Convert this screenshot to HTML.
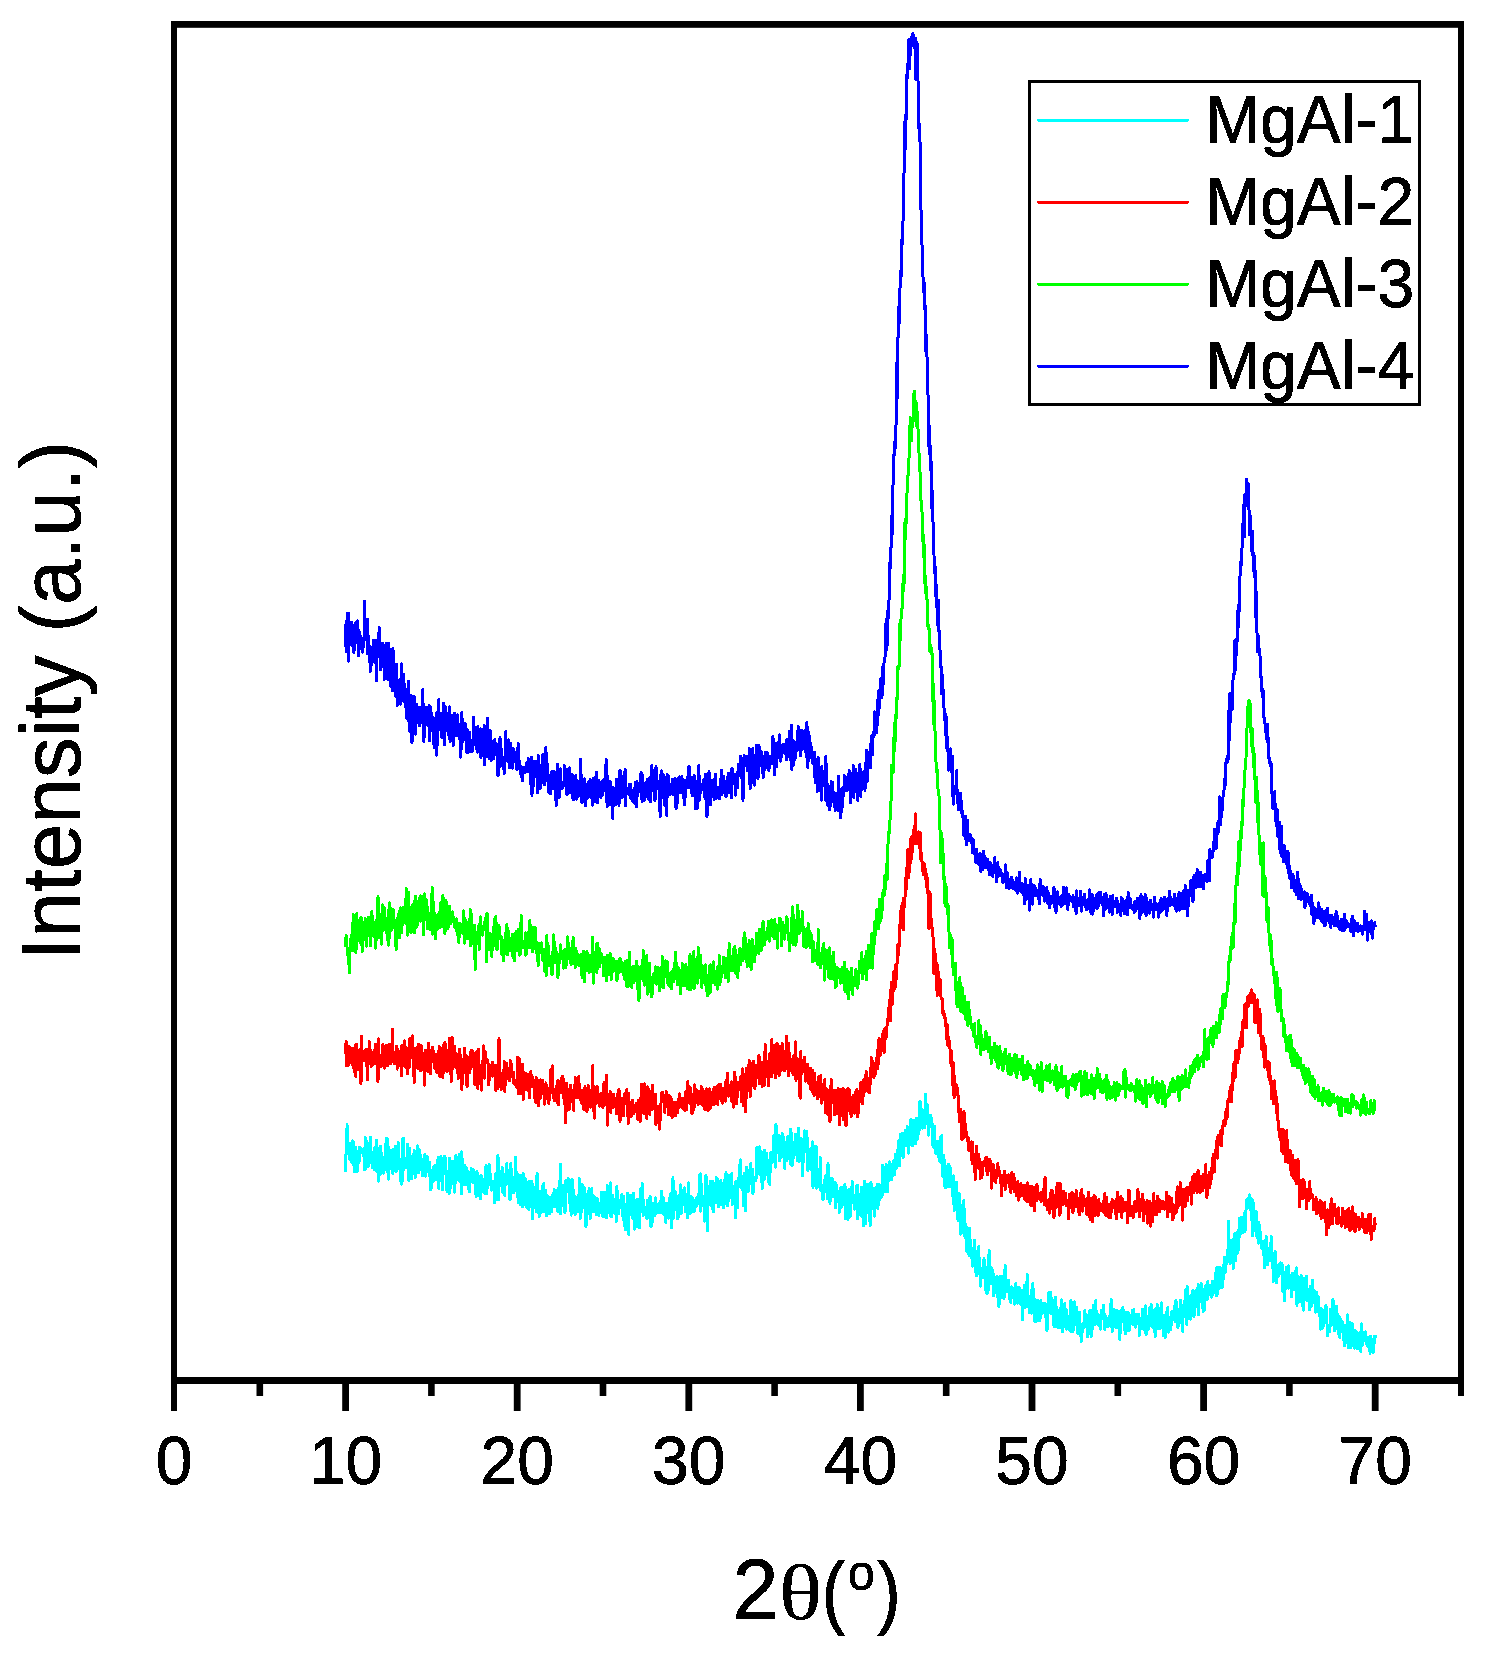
<!DOCTYPE html>
<html lang="en"><head><meta charset="utf-8"><title>XRD patterns of MgAl samples</title>
<style>html,body{margin:0;padding:0;background:#fff}svg{display:block}text{font-family:"Liberation Sans",sans-serif;fill:#000}.th{font-family:"Liberation Serif","DejaVu Serif",serif}</style></head><body>
<svg width="1489" height="1659" viewBox="0 0 1489 1659">
<defs><filter id="bin" x="-5%" y="-5%" width="110%" height="110%" color-interpolation-filters="sRGB"><feComponentTransfer><feFuncA type="discrete" tableValues="0 1"/></feComponentTransfer></filter></defs>
<rect x="0" y="0" width="1489" height="1659" fill="#fff"/>
<g shape-rendering="crispEdges">
<polyline fill="none" stroke="#00ffff" stroke-width="3" stroke-linejoin="round" stroke-linecap="butt" points="345.6,1172.1 346.1,1150.1 346.6,1148.2 347.1,1124.8 347.7,1153.8 348.2,1150.7 348.7,1148.5 349.2,1157.9 349.7,1159.2 350.2,1143.2 350.7,1145.2 351.3,1149.8 351.8,1162.5 352.3,1161.1 352.8,1140.8 353.3,1142.8 353.8,1162.9 354.4,1172.0 354.9,1154.5 355.4,1147.3 355.9,1166.6 356.4,1151.3 356.9,1162.5 357.4,1171.4 358.0,1164.7 358.5,1155.2 359.0,1162.3 359.5,1147.2 360.0,1152.2 360.5,1147.9 361.0,1151.9 361.6,1148.7 362.1,1152.0 362.6,1149.9 363.1,1155.0 363.6,1154.7 364.1,1157.3 364.6,1169.4 365.2,1137.3 365.7,1168.3 366.2,1151.7 366.7,1141.0 367.2,1152.6 367.7,1155.6 368.3,1166.4 368.8,1143.3 369.3,1157.4 369.8,1156.4 370.3,1137.0 370.8,1142.6 371.3,1162.1 371.9,1163.3 372.4,1167.8 372.9,1161.9 373.4,1160.6 373.9,1157.8 374.4,1169.7 374.9,1147.6 375.5,1155.4 376.0,1161.3 376.5,1140.1 377.0,1171.6 377.5,1148.9 378.0,1156.8 378.5,1181.1 379.1,1148.8 379.6,1152.2 380.1,1175.0 380.6,1146.4 381.1,1153.5 381.6,1163.8 382.2,1163.3 382.7,1164.8 383.2,1162.5 383.7,1173.1 384.2,1169.6 384.7,1165.1 385.2,1151.4 385.8,1147.2 386.3,1138.2 386.8,1166.4 387.3,1139.3 387.8,1168.6 388.3,1179.1 388.8,1147.7 389.4,1151.8 389.9,1154.2 390.4,1168.4 390.9,1150.1 391.4,1158.1 391.9,1153.9 392.4,1156.9 393.0,1173.6 393.5,1149.2 394.0,1160.5 394.5,1162.7 395.0,1169.1 395.5,1146.2 396.1,1172.0 396.6,1164.7 397.1,1169.5 397.6,1160.8 398.1,1142.3 398.6,1153.1 399.1,1169.0 399.7,1160.6 400.2,1159.7 400.7,1179.6 401.2,1184.1 401.7,1159.9 402.2,1181.2 402.7,1138.8 403.3,1138.2 403.8,1169.8 404.3,1157.6 404.8,1166.7 405.3,1166.0 405.8,1159.5 406.3,1167.9 406.9,1162.2 407.4,1144.0 407.9,1163.0 408.4,1162.6 408.9,1180.5 409.4,1148.5 409.9,1160.9 410.5,1156.2 411.0,1159.4 411.5,1178.8 412.0,1165.0 412.5,1155.9 413.0,1162.7 413.6,1169.4 414.1,1150.4 414.6,1158.5 415.1,1178.1 415.6,1170.9 416.1,1161.4 416.6,1156.9 417.2,1160.7 417.7,1145.8 418.2,1173.0 418.7,1166.8 419.2,1165.0 419.7,1149.8 420.2,1156.4 420.8,1170.0 421.3,1167.6 421.8,1159.8 422.3,1170.9 422.8,1175.9 423.3,1158.9 423.8,1160.8 424.4,1157.5 424.9,1154.8 425.4,1176.1 425.9,1173.3 426.4,1171.8 426.9,1155.9 427.5,1157.6 428.0,1168.3 428.5,1164.9 429.0,1170.9 429.5,1162.3 430.0,1177.0 430.5,1189.5 431.1,1186.9 431.6,1187.8 432.1,1171.5 432.6,1180.8 433.1,1167.1 433.6,1181.2 434.1,1167.5 434.7,1166.5 435.2,1165.0 435.7,1179.5 436.2,1175.1 436.7,1174.4 437.2,1160.4 437.7,1174.2 438.3,1157.5 438.8,1188.8 439.3,1171.8 439.8,1175.4 440.3,1172.3 440.8,1156.7 441.4,1159.1 441.9,1173.6 442.4,1189.9 442.9,1162.3 443.4,1166.8 443.9,1173.9 444.4,1156.5 445.0,1156.5 445.5,1170.3 446.0,1174.3 446.5,1170.7 447.0,1191.3 447.5,1173.3 448.0,1179.0 448.6,1192.2 449.1,1193.4 449.6,1158.5 450.1,1171.5 450.6,1187.9 451.1,1161.0 451.6,1165.9 452.2,1162.0 452.7,1161.3 453.2,1163.8 453.7,1177.8 454.2,1189.5 454.7,1192.3 455.3,1176.2 455.8,1155.2 456.3,1175.6 456.8,1172.6 457.3,1180.0 457.8,1175.0 458.3,1157.3 458.9,1180.9 459.4,1154.6 459.9,1169.3 460.4,1180.0 460.9,1180.4 461.4,1193.5 461.9,1151.8 462.5,1180.5 463.0,1184.3 463.5,1173.6 464.0,1183.9 464.5,1165.5 465.0,1184.3 465.5,1183.1 466.1,1167.1 466.6,1170.5 467.1,1175.6 467.6,1170.8 468.1,1188.9 468.6,1179.8 469.2,1191.9 469.7,1190.6 470.2,1178.8 470.7,1176.2 471.2,1168.4 471.7,1170.0 472.2,1170.1 472.8,1182.4 473.3,1169.4 473.8,1179.7 474.3,1181.0 474.8,1173.8 475.3,1177.2 475.8,1194.5 476.4,1196.4 476.9,1171.2 477.4,1177.5 477.9,1175.7 478.4,1176.8 478.9,1196.0 479.4,1187.2 480.0,1193.3 480.5,1198.9 481.0,1175.5 481.5,1178.3 482.0,1180.8 482.5,1191.3 483.1,1179.7 483.6,1187.6 484.1,1193.2 484.6,1193.3 485.1,1185.8 485.6,1172.9 486.1,1164.9 486.7,1193.3 487.2,1186.4 487.7,1171.8 488.2,1176.5 488.7,1177.2 489.2,1164.4 489.7,1184.8 490.3,1173.9 490.8,1179.2 491.3,1190.2 491.8,1181.5 492.3,1188.3 492.8,1187.1 493.3,1183.1 493.9,1183.3 494.4,1202.5 494.9,1180.2 495.4,1200.1 495.9,1173.3 496.4,1190.7 497.0,1184.8 497.5,1175.3 498.0,1155.1 498.5,1199.8 499.0,1170.8 499.5,1172.9 500.0,1184.4 500.6,1183.6 501.1,1185.9 501.6,1180.3 502.1,1167.2 502.6,1192.1 503.1,1173.5 503.6,1185.4 504.2,1189.1 504.7,1195.5 505.2,1180.7 505.7,1179.8 506.2,1180.5 506.7,1163.5 507.2,1175.0 507.8,1172.4 508.3,1170.9 508.8,1184.8 509.3,1179.7 509.8,1199.8 510.3,1198.7 510.9,1163.2 511.4,1184.3 511.9,1172.5 512.4,1188.9 512.9,1184.7 513.4,1192.8 513.9,1186.4 514.5,1191.2 515.0,1180.3 515.5,1157.2 516.0,1171.4 516.5,1175.2 517.0,1179.4 517.5,1174.3 518.1,1202.5 518.6,1184.1 519.1,1199.9 519.6,1183.2 520.1,1204.6 520.6,1175.3 521.1,1194.6 521.7,1175.0 522.2,1196.4 522.7,1206.6 523.2,1173.5 523.7,1182.0 524.2,1194.2 524.8,1190.2 525.3,1178.4 525.8,1205.2 526.3,1194.1 526.8,1207.5 527.3,1197.8 527.8,1182.9 528.4,1190.2 528.9,1209.8 529.4,1181.4 529.9,1191.1 530.4,1202.4 530.9,1206.9 531.4,1205.1 532.0,1181.4 532.5,1218.5 533.0,1195.4 533.5,1197.4 534.0,1197.4 534.5,1195.2 535.0,1187.7 535.6,1194.5 536.1,1211.7 536.6,1184.1 537.1,1173.2 537.6,1204.1 538.1,1202.2 538.6,1206.3 539.2,1216.8 539.7,1191.6 540.2,1201.0 540.7,1204.5 541.2,1212.1 541.7,1210.1 542.3,1190.9 542.8,1185.5 543.3,1196.9 543.8,1183.2 544.3,1211.3 544.8,1195.8 545.3,1196.3 545.9,1190.8 546.4,1215.7 546.9,1203.0 547.4,1195.7 547.9,1206.3 548.4,1199.1 548.9,1206.1 549.5,1213.6 550.0,1197.3 550.5,1205.3 551.0,1204.9 551.5,1211.7 552.0,1206.1 552.5,1200.3 553.1,1193.4 553.6,1203.0 554.1,1189.2 554.6,1206.8 555.1,1200.6 555.6,1205.7 556.2,1194.6 556.7,1191.7 557.2,1190.6 557.7,1211.4 558.2,1197.7 558.7,1197.6 559.2,1181.5 559.8,1199.4 560.3,1164.3 560.8,1214.0 561.3,1197.5 561.8,1200.2 562.3,1185.3 562.8,1188.7 563.4,1206.2 563.9,1197.9 564.4,1204.4 564.9,1213.1 565.4,1206.9 565.9,1180.5 566.4,1190.0 567.0,1188.4 567.5,1190.8 568.0,1178.8 568.5,1179.1 569.0,1192.6 569.5,1194.2 570.1,1205.7 570.6,1197.1 571.1,1215.2 571.6,1181.7 572.1,1179.1 572.6,1203.3 573.1,1197.9 573.7,1190.6 574.2,1208.8 574.7,1212.1 575.2,1214.5 575.7,1196.9 576.2,1201.0 576.7,1203.5 577.3,1201.8 577.8,1211.8 578.3,1196.3 578.8,1205.2 579.3,1178.7 579.8,1209.2 580.3,1218.4 580.9,1201.3 581.4,1212.3 581.9,1184.5 582.4,1198.2 582.9,1185.8 583.4,1205.0 584.0,1207.2 584.5,1187.7 585.0,1193.2 585.5,1195.9 586.0,1226.9 586.5,1201.2 587.0,1203.3 587.6,1205.8 588.1,1205.2 588.6,1199.7 589.1,1188.5 589.6,1195.2 590.1,1219.1 590.6,1205.0 591.2,1198.5 591.7,1188.5 592.2,1201.9 592.7,1202.8 593.2,1195.8 593.7,1211.8 594.2,1196.6 594.8,1201.0 595.3,1211.4 595.8,1205.1 596.3,1214.4 596.8,1200.6 597.3,1198.6 597.9,1207.9 598.4,1205.4 598.9,1215.5 599.4,1207.6 599.9,1203.3 600.4,1208.4 600.9,1210.6 601.5,1192.6 602.0,1202.8 602.5,1201.0 603.0,1216.9 603.5,1199.8 604.0,1215.8 604.5,1192.1 605.1,1204.7 605.6,1216.4 606.1,1203.0 606.6,1217.6 607.1,1185.2 607.6,1206.4 608.1,1207.9 608.7,1205.1 609.2,1191.1 609.7,1213.4 610.2,1182.9 610.7,1216.5 611.2,1209.9 611.8,1217.0 612.3,1204.4 612.8,1195.6 613.3,1201.7 613.8,1202.2 614.3,1213.1 614.8,1203.8 615.4,1211.1 615.9,1211.8 616.4,1221.3 616.9,1186.4 617.4,1202.6 617.9,1213.7 618.4,1213.6 619.0,1200.8 619.5,1203.7 620.0,1205.4 620.5,1207.6 621.0,1200.4 621.5,1199.5 622.0,1194.6 622.6,1202.1 623.1,1220.1 623.6,1196.1 624.1,1215.6 624.6,1225.5 625.1,1207.7 625.7,1229.7 626.2,1204.1 626.7,1222.5 627.2,1204.9 627.7,1193.0 628.2,1208.9 628.7,1234.5 629.3,1199.3 629.8,1210.3 630.3,1195.2 630.8,1196.3 631.3,1210.1 631.8,1203.5 632.3,1211.2 632.9,1218.5 633.4,1193.4 633.9,1198.4 634.4,1205.9 634.9,1229.2 635.4,1202.2 635.9,1200.6 636.5,1210.0 637.0,1227.1 637.5,1199.6 638.0,1202.5 638.5,1206.1 639.0,1213.4 639.6,1228.0 640.1,1192.9 640.6,1188.7 641.1,1207.3 641.6,1211.2 642.1,1182.9 642.6,1199.5 643.2,1215.6 643.7,1200.4 644.2,1210.8 644.7,1207.6 645.2,1212.5 645.7,1210.3 646.2,1208.6 646.8,1218.7 647.3,1200.2 647.8,1207.2 648.3,1217.6 648.8,1200.3 649.3,1202.3 649.8,1198.4 650.4,1196.5 650.9,1226.9 651.4,1211.1 651.9,1225.5 652.4,1213.8 652.9,1207.2 653.5,1203.6 654.0,1209.2 654.5,1206.1 655.0,1215.9 655.5,1197.7 656.0,1208.4 656.5,1211.5 657.1,1204.4 657.6,1204.4 658.1,1212.5 658.6,1212.6 659.1,1205.9 659.6,1206.8 660.1,1201.3 660.7,1212.7 661.2,1205.8 661.7,1191.0 662.2,1203.8 662.7,1213.3 663.2,1209.9 663.7,1197.9 664.3,1214.4 664.8,1213.0 665.3,1213.0 665.8,1222.3 666.3,1203.2 666.8,1212.7 667.3,1203.8 667.9,1216.4 668.4,1218.1 668.9,1211.1 669.4,1213.6 669.9,1197.6 670.4,1212.1 671.0,1193.4 671.5,1227.6 672.0,1217.1 672.5,1189.5 673.0,1177.8 673.5,1218.2 674.0,1195.9 674.6,1210.1 675.1,1191.1 675.6,1205.0 676.1,1197.5 676.6,1210.1 677.1,1200.4 677.6,1218.9 678.2,1195.8 678.7,1216.6 679.2,1203.2 679.7,1208.6 680.2,1186.8 680.7,1185.0 681.2,1213.7 681.8,1190.2 682.3,1199.3 682.8,1199.4 683.3,1193.3 683.8,1204.6 684.3,1187.9 684.9,1190.1 685.4,1211.7 685.9,1193.9 686.4,1209.7 686.9,1212.2 687.4,1217.5 687.9,1206.4 688.5,1182.8 689.0,1194.9 689.5,1197.2 690.0,1214.0 690.5,1204.8 691.0,1196.1 691.5,1205.4 692.1,1197.1 692.6,1206.3 693.1,1202.1 693.6,1211.8 694.1,1203.7 694.6,1210.4 695.1,1199.9 695.7,1207.2 696.2,1198.1 696.7,1206.2 697.2,1201.7 697.7,1197.9 698.2,1194.7 698.8,1196.1 699.3,1203.6 699.8,1174.9 700.3,1211.2 700.8,1173.8 701.3,1196.1 701.8,1194.5 702.4,1205.4 702.9,1200.0 703.4,1197.0 703.9,1198.1 704.4,1206.9 704.9,1221.2 705.4,1200.7 706.0,1175.3 706.5,1192.1 707.0,1200.6 707.5,1230.5 708.0,1188.0 708.5,1192.0 709.0,1201.5 709.6,1198.9 710.1,1181.6 710.6,1205.1 711.1,1181.4 711.6,1192.2 712.1,1208.6 712.7,1181.0 713.2,1191.0 713.7,1211.8 714.2,1191.6 714.7,1183.3 715.2,1188.0 715.7,1202.7 716.3,1177.6 716.8,1187.2 717.3,1178.5 717.8,1181.5 718.3,1206.9 718.8,1192.5 719.3,1188.7 719.9,1197.6 720.4,1185.6 720.9,1180.5 721.4,1204.8 721.9,1202.0 722.4,1183.9 722.9,1200.0 723.5,1207.8 724.0,1197.6 724.5,1197.6 725.0,1179.3 725.5,1190.8 726.0,1172.6 726.6,1203.7 727.1,1190.1 727.6,1205.7 728.1,1183.6 728.6,1200.8 729.1,1175.0 729.6,1187.2 730.2,1197.1 730.7,1195.0 731.2,1190.5 731.7,1173.7 732.2,1204.8 732.7,1197.7 733.2,1202.6 733.8,1202.4 734.3,1186.5 734.8,1194.4 735.3,1218.0 735.8,1181.2 736.3,1194.1 736.8,1183.8 737.4,1208.0 737.9,1191.2 738.4,1178.3 738.9,1182.7 739.4,1174.0 739.9,1164.6 740.5,1159.8 741.0,1180.5 741.5,1176.0 742.0,1189.4 742.5,1178.8 743.0,1189.6 743.5,1205.8 744.1,1174.2 744.6,1173.5 745.1,1196.5 745.6,1210.7 746.1,1176.1 746.6,1167.1 747.1,1181.6 747.7,1180.0 748.2,1191.3 748.7,1171.9 749.2,1179.8 749.7,1178.5 750.2,1164.2 750.7,1163.5 751.3,1184.2 751.8,1184.5 752.3,1169.2 752.8,1193.6 753.3,1191.0 753.8,1180.0 754.4,1180.7 754.9,1177.0 755.4,1180.2 755.9,1180.9 756.4,1171.5 756.9,1147.8 757.4,1167.6 758.0,1159.6 758.5,1148.5 759.0,1173.7 759.5,1147.0 760.0,1174.9 760.5,1158.1 761.0,1150.9 761.6,1154.1 762.1,1188.6 762.6,1178.5 763.1,1158.5 763.6,1172.7 764.1,1179.9 764.6,1150.1 765.2,1155.9 765.7,1168.7 766.2,1162.4 766.7,1153.3 767.2,1175.0 767.7,1162.1 768.3,1169.2 768.8,1182.2 769.3,1160.7 769.8,1184.4 770.3,1158.0 770.8,1152.4 771.3,1155.3 771.9,1163.2 772.4,1160.4 772.9,1156.9 773.4,1135.9 773.9,1140.0 774.4,1148.8 774.9,1159.6 775.5,1167.3 776.0,1124.1 776.5,1149.0 777.0,1145.3 777.5,1148.9 778.0,1152.3 778.5,1140.3 779.1,1134.9 779.6,1160.9 780.1,1157.9 780.6,1144.8 781.1,1148.1 781.6,1141.7 782.2,1133.7 782.7,1156.8 783.2,1142.2 783.7,1137.2 784.2,1143.1 784.7,1168.3 785.2,1155.1 785.8,1152.9 786.3,1151.5 786.8,1160.3 787.3,1159.0 787.8,1136.4 788.3,1148.5 788.8,1144.1 789.4,1154.0 789.9,1151.1 790.4,1129.6 790.9,1164.9 791.4,1155.2 791.9,1133.1 792.4,1165.3 793.0,1154.1 793.5,1158.1 794.0,1153.2 794.5,1154.8 795.0,1147.4 795.5,1134.6 796.0,1146.3 796.6,1155.3 797.1,1153.8 797.6,1160.6 798.1,1152.4 798.6,1128.6 799.1,1161.7 799.7,1144.7 800.2,1138.8 800.7,1150.2 801.2,1138.7 801.7,1158.0 802.2,1143.8 802.7,1175.7 803.3,1151.5 803.8,1148.3 804.3,1147.3 804.8,1130.8 805.3,1145.3 805.8,1146.8 806.3,1151.8 806.9,1131.1 807.4,1156.5 807.9,1170.7 808.4,1152.2 808.9,1156.8 809.4,1162.6 809.9,1149.5 810.5,1154.1 811.0,1170.0 811.5,1162.2 812.0,1147.2 812.5,1141.8 813.0,1187.2 813.6,1167.7 814.1,1146.1 814.6,1166.0 815.1,1172.4 815.6,1167.2 816.1,1146.5 816.6,1188.1 817.2,1176.3 817.7,1169.1 818.2,1180.2 818.7,1170.5 819.2,1172.2 819.7,1186.9 820.2,1157.3 820.8,1190.6 821.3,1185.1 821.8,1189.8 822.3,1192.0 822.8,1199.4 823.3,1198.7 823.8,1193.2 824.4,1180.0 824.9,1191.9 825.4,1179.8 825.9,1175.0 826.4,1190.4 826.9,1189.7 827.5,1198.9 828.0,1163.6 828.5,1193.1 829.0,1194.2 829.5,1188.5 830.0,1203.4 830.5,1178.5 831.1,1191.7 831.6,1184.4 832.1,1188.5 832.6,1178.7 833.1,1187.8 833.6,1196.8 834.1,1191.3 834.7,1194.0 835.2,1182.6 835.7,1208.0 836.2,1184.2 836.7,1192.3 837.2,1198.8 837.7,1191.1 838.3,1201.5 838.8,1196.0 839.3,1212.4 839.8,1200.7 840.3,1199.5 840.8,1187.3 841.4,1201.1 841.9,1207.2 842.4,1201.4 842.9,1187.7 843.4,1192.1 843.9,1195.7 844.4,1198.7 845.0,1184.2 845.5,1218.6 846.0,1198.2 846.5,1200.6 847.0,1194.9 847.5,1199.2 848.0,1219.8 848.6,1190.0 849.1,1194.6 849.6,1189.3 850.1,1194.4 850.6,1216.2 851.1,1193.8 851.6,1195.7 852.2,1181.7 852.7,1196.8 853.2,1203.0 853.7,1195.7 854.2,1196.7 854.7,1209.2 855.3,1206.5 855.8,1200.0 856.3,1193.1 856.8,1185.7 857.3,1218.9 857.8,1185.5 858.3,1208.4 858.9,1199.8 859.4,1194.4 859.9,1211.3 860.4,1194.7 860.9,1215.7 861.4,1187.0 861.9,1208.2 862.5,1216.5 863.0,1193.5 863.5,1225.4 864.0,1212.7 864.5,1181.2 865.0,1218.5 865.5,1223.9 866.1,1201.5 866.6,1202.2 867.1,1208.0 867.6,1184.4 868.1,1205.5 868.6,1213.3 869.2,1197.8 869.7,1214.7 870.2,1225.8 870.7,1182.5 871.2,1183.7 871.7,1194.7 872.2,1208.1 872.8,1205.0 873.3,1191.0 873.8,1188.1 874.3,1191.6 874.8,1216.1 875.3,1187.8 875.8,1190.9 876.4,1206.1 876.9,1192.5 877.4,1184.1 877.9,1208.6 878.4,1196.3 878.9,1184.7 879.4,1187.1 880.0,1200.0 880.5,1185.5 881.0,1191.1 881.5,1196.7 882.0,1196.7 882.5,1165.6 883.1,1178.7 883.6,1179.2 884.1,1182.6 884.6,1188.4 885.1,1191.5 885.6,1172.9 886.1,1164.7 886.7,1177.4 887.2,1167.8 887.7,1191.6 888.2,1175.8 888.7,1171.5 889.2,1180.6 889.7,1161.9 890.3,1164.5 890.8,1165.5 891.3,1173.7 891.8,1180.0 892.3,1173.8 892.8,1172.8 893.3,1161.6 893.9,1167.4 894.4,1160.3 894.9,1174.7 895.4,1154.7 895.9,1160.0 896.4,1162.7 897.0,1167.8 897.5,1150.5 898.0,1155.0 898.5,1147.5 899.0,1140.6 899.5,1165.9 900.0,1157.6 900.6,1134.6 901.1,1138.9 901.6,1154.2 902.1,1139.8 902.6,1133.4 903.1,1157.3 903.6,1136.7 904.2,1136.6 904.7,1145.6 905.2,1130.3 905.7,1137.3 906.2,1138.0 906.7,1143.7 907.2,1126.7 907.8,1146.2 908.3,1137.5 908.8,1153.1 909.3,1135.3 909.8,1126.6 910.3,1126.2 910.9,1119.3 911.4,1131.3 911.9,1130.3 912.4,1145.7 912.9,1131.2 913.4,1120.6 913.9,1140.8 914.5,1124.2 915.0,1131.4 915.5,1144.0 916.0,1141.4 916.5,1118.4 917.0,1124.3 917.5,1139.3 918.1,1134.2 918.6,1128.1 919.1,1130.7 919.6,1101.7 920.1,1115.4 920.6,1101.8 921.1,1109.8 921.7,1111.9 922.2,1120.9 922.7,1128.1 923.2,1123.4 923.7,1117.3 924.2,1110.0 924.7,1127.8 925.3,1094.0 925.8,1096.8 926.3,1113.1 926.8,1120.0 927.3,1104.8 927.8,1119.2 928.4,1135.1 928.9,1117.2 929.4,1121.3 929.9,1123.4 930.4,1115.1 930.9,1122.6 931.4,1118.5 932.0,1128.3 932.5,1124.2 933.0,1145.5 933.5,1135.4 934.0,1147.9 934.5,1126.5 935.0,1142.2 935.6,1150.7 936.1,1153.9 936.6,1141.2 937.1,1148.6 937.6,1152.6 938.1,1149.1 938.6,1149.6 939.2,1161.2 939.7,1143.5 940.2,1137.8 940.7,1153.3 941.2,1162.7 941.7,1135.6 942.3,1176.2 942.8,1163.5 943.3,1169.8 943.8,1155.4 944.3,1165.1 944.8,1186.4 945.3,1188.0 945.9,1175.7 946.4,1167.0 946.9,1169.9 947.4,1186.4 947.9,1165.7 948.4,1164.4 948.9,1174.2 949.5,1186.6 950.0,1166.7 950.5,1183.3 951.0,1184.9 951.5,1183.9 952.0,1182.5 952.5,1196.0 953.1,1194.5 953.6,1175.7 954.1,1210.6 954.6,1201.5 955.1,1202.9 955.6,1198.8 956.2,1202.3 956.7,1182.1 957.2,1208.1 957.7,1218.6 958.2,1220.6 958.7,1208.9 959.2,1193.3 959.8,1207.2 960.3,1216.7 960.8,1234.1 961.3,1205.9 961.8,1223.6 962.3,1230.6 962.8,1232.1 963.4,1226.1 963.9,1200.4 964.4,1235.7 964.9,1232.4 965.4,1237.9 965.9,1224.6 966.4,1230.7 967.0,1251.9 967.5,1237.5 968.0,1239.8 968.5,1234.3 969.0,1255.2 969.5,1228.1 970.1,1240.4 970.6,1251.1 971.1,1247.8 971.6,1258.2 972.1,1255.0 972.6,1266.2 973.1,1251.3 973.7,1253.5 974.2,1258.8 974.7,1240.2 975.2,1272.2 975.7,1251.0 976.2,1271.8 976.7,1275.9 977.3,1272.9 977.8,1266.2 978.3,1259.4 978.8,1246.3 979.3,1273.0 979.8,1266.5 980.3,1286.2 980.9,1268.2 981.4,1278.0 981.9,1269.2 982.4,1278.0 982.9,1271.6 983.4,1274.1 984.0,1258.8 984.5,1270.4 985.0,1276.2 985.5,1290.0 986.0,1281.0 986.5,1267.4 987.0,1294.1 987.6,1282.9 988.1,1290.4 988.6,1271.8 989.1,1249.9 989.6,1273.6 990.1,1271.5 990.6,1283.8 991.2,1267.2 991.7,1273.5 992.2,1269.3 992.7,1283.6 993.2,1273.9 993.7,1295.6 994.2,1290.4 994.8,1291.2 995.3,1281.7 995.8,1286.2 996.3,1292.3 996.8,1276.7 997.3,1296.3 997.9,1284.4 998.4,1297.1 998.9,1306.5 999.4,1300.4 999.9,1276.2 1000.4,1297.7 1000.9,1283.8 1001.5,1283.1 1002.0,1285.0 1002.5,1276.6 1003.0,1290.0 1003.5,1281.4 1004.0,1298.5 1004.5,1291.5 1005.1,1264.9 1005.6,1280.1 1006.1,1279.9 1006.6,1283.1 1007.1,1283.6 1007.6,1291.9 1008.1,1288.8 1008.7,1280.4 1009.2,1294.7 1009.7,1299.3 1010.2,1291.3 1010.7,1302.3 1011.2,1295.7 1011.8,1286.9 1012.3,1288.6 1012.8,1292.6 1013.3,1297.6 1013.8,1294.6 1014.3,1302.2 1014.8,1304.1 1015.4,1284.6 1015.9,1283.5 1016.4,1293.3 1016.9,1298.7 1017.4,1303.1 1017.9,1300.9 1018.4,1300.9 1019.0,1287.1 1019.5,1299.2 1020.0,1290.2 1020.5,1300.1 1021.0,1304.7 1021.5,1290.7 1022.0,1294.9 1022.6,1319.5 1023.1,1290.7 1023.6,1293.3 1024.1,1288.2 1024.6,1285.4 1025.1,1307.6 1025.7,1292.7 1026.2,1293.5 1026.7,1292.1 1027.2,1274.3 1027.7,1306.6 1028.2,1295.1 1028.7,1299.9 1029.3,1312.9 1029.8,1299.6 1030.3,1302.3 1030.8,1303.0 1031.3,1313.2 1031.8,1289.9 1032.3,1297.2 1032.9,1283.0 1033.4,1303.0 1033.9,1308.8 1034.4,1299.6 1034.9,1321.5 1035.4,1312.7 1035.9,1321.7 1036.5,1306.0 1037.0,1321.0 1037.5,1300.5 1038.0,1309.1 1038.5,1306.8 1039.0,1302.2 1039.6,1321.0 1040.1,1318.3 1040.6,1300.7 1041.1,1313.2 1041.6,1308.9 1042.1,1309.0 1042.6,1313.3 1043.2,1303.7 1043.7,1310.1 1044.2,1311.3 1044.7,1303.5 1045.2,1304.6 1045.7,1317.0 1046.2,1309.8 1046.8,1330.7 1047.3,1328.9 1047.8,1303.7 1048.3,1313.0 1048.8,1292.6 1049.3,1304.8 1049.8,1302.7 1050.4,1304.0 1050.9,1292.0 1051.4,1313.5 1051.9,1312.6 1052.4,1304.4 1052.9,1311.0 1053.4,1320.0 1054.0,1326.2 1054.5,1300.6 1055.0,1326.5 1055.5,1297.5 1056.0,1305.6 1056.5,1309.6 1057.1,1326.8 1057.6,1318.7 1058.1,1318.8 1058.6,1327.5 1059.1,1316.0 1059.6,1310.2 1060.1,1327.3 1060.7,1312.7 1061.2,1303.7 1061.7,1299.9 1062.2,1316.6 1062.7,1331.9 1063.2,1322.2 1063.7,1316.3 1064.3,1326.8 1064.8,1303.3 1065.3,1320.4 1065.8,1312.1 1066.3,1329.1 1066.8,1309.9 1067.3,1324.5 1067.9,1319.4 1068.4,1318.0 1068.9,1324.1 1069.4,1316.6 1069.9,1331.0 1070.4,1316.9 1071.0,1299.9 1071.5,1331.6 1072.0,1330.7 1072.5,1323.7 1073.0,1331.5 1073.5,1325.6 1074.0,1312.4 1074.6,1302.0 1075.1,1310.8 1075.6,1317.4 1076.1,1324.5 1076.6,1307.7 1077.1,1312.2 1077.6,1333.3 1078.2,1314.1 1078.7,1313.8 1079.2,1312.0 1079.7,1334.4 1080.2,1327.2 1080.7,1328.1 1081.2,1341.9 1081.8,1328.8 1082.3,1332.1 1082.8,1323.7 1083.3,1328.1 1083.8,1326.1 1084.3,1326.7 1084.9,1310.6 1085.4,1318.9 1085.9,1317.6 1086.4,1315.1 1086.9,1320.4 1087.4,1336.5 1087.9,1329.0 1088.5,1321.7 1089.0,1323.8 1089.5,1333.0 1090.0,1310.4 1090.5,1324.2 1091.0,1335.2 1091.5,1336.4 1092.1,1328.7 1092.6,1325.6 1093.1,1305.2 1093.6,1314.7 1094.1,1320.4 1094.6,1324.0 1095.1,1324.2 1095.7,1300.7 1096.2,1315.8 1096.7,1322.7 1097.2,1313.6 1097.7,1318.1 1098.2,1324.4 1098.8,1322.5 1099.3,1321.2 1099.8,1325.9 1100.3,1329.2 1100.8,1316.7 1101.3,1310.0 1101.8,1313.0 1102.4,1312.4 1102.9,1318.3 1103.4,1305.5 1103.9,1311.9 1104.4,1316.2 1104.9,1330.0 1105.4,1322.7 1106.0,1316.8 1106.5,1325.7 1107.0,1319.5 1107.5,1319.9 1108.0,1327.1 1108.5,1320.8 1109.0,1319.2 1109.6,1324.1 1110.1,1313.2 1110.6,1318.3 1111.1,1299.7 1111.6,1314.3 1112.1,1331.3 1112.7,1314.8 1113.2,1317.9 1113.7,1314.3 1114.2,1309.1 1114.7,1322.2 1115.2,1317.8 1115.7,1327.4 1116.3,1310.3 1116.8,1318.3 1117.3,1315.0 1117.8,1312.9 1118.3,1327.3 1118.8,1311.7 1119.3,1311.8 1119.9,1339.9 1120.4,1317.4 1120.9,1316.2 1121.4,1322.0 1121.9,1309.3 1122.4,1321.1 1122.9,1307.8 1123.5,1313.9 1124.0,1313.1 1124.5,1329.7 1125.0,1323.5 1125.5,1334.0 1126.0,1332.5 1126.6,1312.1 1127.1,1322.6 1127.6,1314.4 1128.1,1312.7 1128.6,1328.6 1129.1,1330.7 1129.6,1319.5 1130.2,1321.4 1130.7,1321.2 1131.2,1321.5 1131.7,1321.9 1132.2,1310.3 1132.7,1324.4 1133.2,1313.3 1133.8,1309.2 1134.3,1318.3 1134.8,1322.0 1135.3,1327.1 1135.8,1323.2 1136.3,1322.6 1136.8,1314.5 1137.4,1323.8 1137.9,1322.3 1138.4,1323.1 1138.9,1314.2 1139.4,1335.4 1139.9,1327.3 1140.5,1326.7 1141.0,1321.7 1141.5,1318.5 1142.0,1329.0 1142.5,1309.6 1143.0,1317.0 1143.5,1318.5 1144.1,1325.9 1144.6,1318.3 1145.1,1333.1 1145.6,1305.8 1146.1,1334.4 1146.6,1323.6 1147.1,1328.9 1147.7,1316.4 1148.2,1329.7 1148.7,1318.0 1149.2,1322.9 1149.7,1307.9 1150.2,1325.4 1150.7,1321.7 1151.3,1304.4 1151.8,1319.7 1152.3,1317.8 1152.8,1327.5 1153.3,1314.6 1153.8,1322.0 1154.4,1331.5 1154.9,1309.0 1155.4,1336.4 1155.9,1322.3 1156.4,1318.2 1156.9,1308.3 1157.4,1304.7 1158.0,1328.3 1158.5,1316.0 1159.0,1314.5 1159.5,1329.0 1160.0,1325.6 1160.5,1320.8 1161.0,1307.0 1161.6,1302.7 1162.1,1327.7 1162.6,1319.1 1163.1,1317.1 1163.6,1335.8 1164.1,1315.5 1164.6,1322.2 1165.2,1337.6 1165.7,1324.2 1166.2,1314.0 1166.7,1311.4 1167.2,1329.1 1167.7,1307.7 1168.3,1325.5 1168.8,1332.2 1169.3,1317.2 1169.8,1325.1 1170.3,1318.4 1170.8,1330.0 1171.3,1319.9 1171.9,1311.3 1172.4,1320.4 1172.9,1318.4 1173.4,1311.6 1173.9,1314.7 1174.4,1306.1 1174.9,1309.1 1175.5,1321.9 1176.0,1300.0 1176.5,1318.3 1177.0,1315.8 1177.5,1310.4 1178.0,1327.5 1178.5,1321.1 1179.1,1309.6 1179.6,1316.3 1180.1,1322.3 1180.6,1300.3 1181.1,1315.6 1181.6,1311.3 1182.1,1316.6 1182.7,1331.3 1183.2,1306.8 1183.7,1309.2 1184.2,1301.4 1184.7,1313.5 1185.2,1316.7 1185.8,1289.3 1186.3,1323.5 1186.8,1324.3 1187.3,1286.4 1187.8,1296.2 1188.3,1313.4 1188.8,1309.6 1189.4,1318.8 1189.9,1305.6 1190.4,1319.1 1190.9,1295.2 1191.4,1310.5 1191.9,1302.6 1192.4,1301.9 1193.0,1289.9 1193.5,1301.5 1194.0,1316.9 1194.5,1298.5 1195.0,1301.8 1195.5,1304.6 1196.0,1290.1 1196.6,1304.8 1197.1,1307.0 1197.6,1299.4 1198.1,1284.5 1198.6,1314.4 1199.1,1300.7 1199.7,1299.6 1200.2,1297.5 1200.7,1293.6 1201.2,1283.5 1201.7,1297.6 1202.2,1299.0 1202.7,1306.1 1203.3,1311.5 1203.8,1289.7 1204.3,1310.4 1204.8,1296.2 1205.3,1300.2 1205.8,1285.2 1206.3,1297.1 1206.9,1285.0 1207.4,1299.1 1207.9,1281.2 1208.4,1292.4 1208.9,1287.7 1209.4,1294.3 1209.9,1292.9 1210.5,1291.6 1211.0,1285.1 1211.5,1297.1 1212.0,1294.0 1212.5,1281.1 1213.0,1294.7 1213.6,1281.5 1214.1,1287.7 1214.6,1285.5 1215.1,1284.9 1215.6,1292.6 1216.1,1268.1 1216.6,1295.8 1217.2,1267.1 1217.7,1294.2 1218.2,1287.2 1218.7,1267.5 1219.2,1283.7 1219.7,1276.4 1220.2,1267.1 1220.8,1287.9 1221.3,1285.5 1221.8,1276.9 1222.3,1287.4 1222.8,1271.2 1223.3,1265.4 1223.8,1278.8 1224.4,1257.6 1224.9,1270.8 1225.4,1272.5 1225.9,1262.8 1226.4,1260.6 1226.9,1263.3 1227.5,1260.1 1228.0,1250.2 1228.5,1221.5 1229.0,1250.3 1229.5,1240.3 1230.0,1263.2 1230.5,1248.4 1231.1,1254.3 1231.6,1258.3 1232.1,1259.9 1232.6,1239.7 1233.1,1268.7 1233.6,1255.1 1234.1,1250.8 1234.7,1233.8 1235.2,1261.1 1235.7,1245.9 1236.2,1248.7 1236.7,1232.9 1237.2,1253.2 1237.7,1247.4 1238.3,1230.1 1238.8,1249.9 1239.3,1218.0 1239.8,1236.3 1240.3,1233.0 1240.8,1232.4 1241.4,1217.3 1241.9,1219.8 1242.4,1232.3 1242.9,1232.4 1243.4,1220.1 1243.9,1217.1 1244.4,1213.6 1245.0,1231.7 1245.5,1215.6 1246.0,1210.6 1246.5,1200.1 1247.0,1199.6 1247.5,1201.4 1248.0,1198.7 1248.6,1206.9 1249.1,1207.4 1249.6,1194.7 1250.1,1205.9 1250.6,1209.8 1251.1,1198.5 1251.6,1220.2 1252.2,1199.4 1252.7,1235.9 1253.2,1202.7 1253.7,1219.8 1254.2,1217.7 1254.7,1226.9 1255.3,1217.1 1255.8,1231.6 1256.3,1211.7 1256.8,1236.5 1257.3,1227.4 1257.8,1235.4 1258.3,1243.2 1258.9,1222.5 1259.4,1229.8 1259.9,1229.6 1260.4,1237.4 1260.9,1241.3 1261.4,1248.0 1261.9,1244.1 1262.5,1241.5 1263.0,1249.5 1263.5,1255.2 1264.0,1255.6 1264.5,1267.6 1265.0,1241.8 1265.5,1251.2 1266.1,1236.7 1266.6,1243.9 1267.1,1257.5 1267.6,1264.6 1268.1,1248.4 1268.6,1258.5 1269.2,1255.6 1269.7,1260.6 1270.2,1258.6 1270.7,1252.7 1271.2,1236.5 1271.7,1244.5 1272.2,1263.4 1272.8,1259.8 1273.3,1281.4 1273.8,1262.8 1274.3,1272.0 1274.8,1252.9 1275.3,1251.8 1275.8,1267.9 1276.4,1282.8 1276.9,1271.7 1277.4,1265.7 1277.9,1273.5 1278.4,1276.3 1278.9,1275.6 1279.4,1272.3 1280.0,1263.0 1280.5,1262.9 1281.0,1269.5 1281.5,1273.8 1282.0,1263.3 1282.5,1291.1 1283.1,1282.3 1283.6,1272.3 1284.1,1284.8 1284.6,1300.8 1285.1,1280.9 1285.6,1281.2 1286.1,1289.1 1286.7,1267.4 1287.2,1275.1 1287.7,1273.6 1288.2,1288.2 1288.7,1265.9 1289.2,1284.9 1289.7,1277.8 1290.3,1280.0 1290.8,1277.8 1291.3,1296.8 1291.8,1275.7 1292.3,1273.0 1292.8,1287.2 1293.3,1279.4 1293.9,1289.7 1294.4,1284.8 1294.9,1285.9 1295.4,1286.7 1295.9,1270.7 1296.4,1268.0 1297.0,1305.2 1297.5,1276.3 1298.0,1292.1 1298.5,1277.3 1299.0,1287.1 1299.5,1285.8 1300.0,1301.7 1300.6,1286.9 1301.1,1275.1 1301.6,1276.5 1302.1,1292.5 1302.6,1298.0 1303.1,1308.7 1303.6,1310.1 1304.2,1278.3 1304.7,1290.4 1305.2,1280.8 1305.7,1294.7 1306.2,1299.8 1306.7,1276.3 1307.2,1301.0 1307.8,1300.2 1308.3,1291.7 1308.8,1289.0 1309.3,1309.9 1309.8,1294.0 1310.3,1286.0 1310.8,1297.3 1311.4,1306.2 1311.9,1303.6 1312.4,1280.4 1312.9,1286.5 1313.4,1295.8 1313.9,1301.8 1314.5,1302.9 1315.0,1291.6 1315.5,1312.1 1316.0,1309.4 1316.5,1292.6 1317.0,1299.3 1317.5,1307.9 1318.1,1296.7 1318.6,1311.3 1319.1,1313.4 1319.6,1308.7 1320.1,1318.1 1320.6,1329.3 1321.1,1308.1 1321.7,1318.3 1322.2,1310.5 1322.7,1328.1 1323.2,1325.9 1323.7,1315.2 1324.2,1310.0 1324.7,1322.4 1325.3,1315.3 1325.8,1305.4 1326.3,1307.6 1326.8,1315.2 1327.3,1335.8 1327.8,1326.7 1328.4,1329.6 1328.9,1326.1 1329.4,1330.3 1329.9,1331.7 1330.4,1309.5 1330.9,1324.7 1331.4,1325.3 1332.0,1324.5 1332.5,1324.3 1333.0,1299.4 1333.5,1323.1 1334.0,1310.3 1334.5,1330.6 1335.0,1318.4 1335.6,1320.9 1336.1,1323.2 1336.6,1306.6 1337.1,1323.1 1337.6,1314.2 1338.1,1333.6 1338.6,1321.4 1339.2,1316.7 1339.7,1337.5 1340.2,1324.9 1340.7,1319.7 1341.2,1327.7 1341.7,1327.5 1342.3,1331.8 1342.8,1321.9 1343.3,1340.1 1343.8,1334.4 1344.3,1346.0 1344.8,1337.6 1345.3,1325.2 1345.9,1342.9 1346.4,1332.4 1346.9,1335.9 1347.4,1314.9 1347.9,1325.4 1348.4,1347.7 1348.9,1345.8 1349.5,1322.1 1350.0,1339.8 1350.5,1340.0 1351.0,1347.7 1351.5,1328.3 1352.0,1323.0 1352.5,1340.2 1353.1,1332.2 1353.6,1332.9 1354.1,1330.4 1354.6,1348.3 1355.1,1330.8 1355.6,1346.1 1356.2,1343.3 1356.7,1332.7 1357.2,1346.4 1357.7,1348.9 1358.2,1341.4 1358.7,1336.5 1359.2,1344.8 1359.8,1332.4 1360.3,1342.8 1360.8,1351.5 1361.3,1327.7 1361.8,1323.9 1362.3,1345.1 1362.8,1331.8 1363.4,1335.5 1363.9,1340.7 1364.4,1334.5 1364.9,1340.9 1365.4,1331.9 1365.9,1335.8 1366.4,1339.8 1367.0,1345.3 1367.5,1337.5 1368.0,1344.1 1368.5,1346.5 1369.0,1346.0 1369.5,1341.2 1370.1,1353.2 1370.6,1336.3 1371.1,1351.7 1371.6,1351.6 1372.1,1351.1 1372.6,1339.9 1373.1,1352.4 1373.7,1348.8 1374.2,1336.0 1374.7,1343.0 1375.2,1335.2"/>
<polyline fill="none" stroke="#ff0000" stroke-width="3" stroke-linejoin="round" stroke-linecap="butt" points="345.6,1054.1 346.1,1041.4 346.6,1065.8 347.1,1053.5 347.7,1051.3 348.2,1046.7 348.7,1065.1 349.2,1046.2 349.7,1062.8 350.2,1051.8 350.7,1057.6 351.3,1055.3 351.8,1063.3 352.3,1065.0 352.8,1048.1 353.3,1068.2 353.8,1065.5 354.4,1068.6 354.9,1073.1 355.4,1044.8 355.9,1076.6 356.4,1044.1 356.9,1053.2 357.4,1062.6 358.0,1069.4 358.5,1065.5 359.0,1063.1 359.5,1065.0 360.0,1049.5 360.5,1060.1 361.0,1083.5 361.6,1036.5 362.1,1057.8 362.6,1059.1 363.1,1051.6 363.6,1058.7 364.1,1060.9 364.6,1057.6 365.2,1059.2 365.7,1049.7 366.2,1065.5 366.7,1053.8 367.2,1049.3 367.7,1079.6 368.3,1051.7 368.8,1055.1 369.3,1041.4 369.8,1063.3 370.3,1049.6 370.8,1052.8 371.3,1066.4 371.9,1064.3 372.4,1052.3 372.9,1064.3 373.4,1063.1 373.9,1057.7 374.4,1050.0 374.9,1063.4 375.5,1044.2 376.0,1062.4 376.5,1058.7 377.0,1046.8 377.5,1048.4 378.0,1082.1 378.5,1038.9 379.1,1059.0 379.6,1055.1 380.1,1062.6 380.6,1061.3 381.1,1066.8 381.6,1064.9 382.2,1057.7 382.7,1044.5 383.2,1054.9 383.7,1062.4 384.2,1062.3 384.7,1068.1 385.2,1055.4 385.8,1045.7 386.3,1051.6 386.8,1059.2 387.3,1065.8 387.8,1065.9 388.3,1063.6 388.8,1044.3 389.4,1052.0 389.9,1061.1 390.4,1058.9 390.9,1063.9 391.4,1043.9 391.9,1061.4 392.4,1029.1 393.0,1050.7 393.5,1055.9 394.0,1051.9 394.5,1063.4 395.0,1053.0 395.5,1055.2 396.1,1061.6 396.6,1046.6 397.1,1069.2 397.6,1048.9 398.1,1060.7 398.6,1057.1 399.1,1051.0 399.7,1056.1 400.2,1058.1 400.7,1050.7 401.2,1076.0 401.7,1045.6 402.2,1055.3 402.7,1066.0 403.3,1060.2 403.8,1065.6 404.3,1040.9 404.8,1053.3 405.3,1055.9 405.8,1067.5 406.3,1047.8 406.9,1055.1 407.4,1073.5 407.9,1059.4 408.4,1059.9 408.9,1055.2 409.4,1067.1 409.9,1038.2 410.5,1048.2 411.0,1050.6 411.5,1057.2 412.0,1056.0 412.5,1035.8 413.0,1057.1 413.6,1047.9 414.1,1082.8 414.6,1053.4 415.1,1066.0 415.6,1050.7 416.1,1053.7 416.6,1047.9 417.2,1064.0 417.7,1068.6 418.2,1044.0 418.7,1060.9 419.2,1063.4 419.7,1069.2 420.2,1051.5 420.8,1071.0 421.3,1045.7 421.8,1059.4 422.3,1052.9 422.8,1054.7 423.3,1067.9 423.8,1062.6 424.4,1085.1 424.9,1056.8 425.4,1050.5 425.9,1068.8 426.4,1060.0 426.9,1053.4 427.5,1070.1 428.0,1071.5 428.5,1043.6 429.0,1054.0 429.5,1068.9 430.0,1050.4 430.5,1073.8 431.1,1056.4 431.6,1061.7 432.1,1059.4 432.6,1047.3 433.1,1056.2 433.6,1051.1 434.1,1053.8 434.7,1068.1 435.2,1064.2 435.7,1055.7 436.2,1060.6 436.7,1072.5 437.2,1057.8 437.7,1054.3 438.3,1065.2 438.8,1052.9 439.3,1046.6 439.8,1076.3 440.3,1047.8 440.8,1060.0 441.4,1062.8 441.9,1055.6 442.4,1076.8 442.9,1077.3 443.4,1063.0 443.9,1044.3 444.4,1062.8 445.0,1042.5 445.5,1064.7 446.0,1067.5 446.5,1062.5 447.0,1071.6 447.5,1061.4 448.0,1050.8 448.6,1055.4 449.1,1070.3 449.6,1038.6 450.1,1062.0 450.6,1047.2 451.1,1081.6 451.6,1044.8 452.2,1037.3 452.7,1068.3 453.2,1067.8 453.7,1052.2 454.2,1057.6 454.7,1046.1 455.3,1057.4 455.8,1067.5 456.3,1062.5 456.8,1059.3 457.3,1054.3 457.8,1071.3 458.3,1078.5 458.9,1075.5 459.4,1049.2 459.9,1064.1 460.4,1054.6 460.9,1059.6 461.4,1067.2 461.9,1089.6 462.5,1066.6 463.0,1063.9 463.5,1059.0 464.0,1069.8 464.5,1048.2 465.0,1071.1 465.5,1072.9 466.1,1055.2 466.6,1080.1 467.1,1086.7 467.6,1057.1 468.1,1072.4 468.6,1060.1 469.2,1058.0 469.7,1072.9 470.2,1068.2 470.7,1052.3 471.2,1050.1 471.7,1067.0 472.2,1051.0 472.8,1052.5 473.3,1062.5 473.8,1060.3 474.3,1068.9 474.8,1084.6 475.3,1052.9 475.8,1079.8 476.4,1051.9 476.9,1065.9 477.4,1075.9 477.9,1088.9 478.4,1049.3 478.9,1082.4 479.4,1065.0 480.0,1067.6 480.5,1071.5 481.0,1084.8 481.5,1090.2 482.0,1070.8 482.5,1061.1 483.1,1059.6 483.6,1045.9 484.1,1052.4 484.6,1078.3 485.1,1051.4 485.6,1056.4 486.1,1063.1 486.7,1062.2 487.2,1060.8 487.7,1059.9 488.2,1064.4 488.7,1084.7 489.2,1078.0 489.7,1072.8 490.3,1065.1 490.8,1073.6 491.3,1075.4 491.8,1064.8 492.3,1062.4 492.8,1076.2 493.3,1066.9 493.9,1066.8 494.4,1074.1 494.9,1073.9 495.4,1065.2 495.9,1090.5 496.4,1078.1 497.0,1073.5 497.5,1082.4 498.0,1088.8 498.5,1075.7 499.0,1038.7 499.5,1063.9 500.0,1075.0 500.6,1077.1 501.1,1089.4 501.6,1080.9 502.1,1073.4 502.6,1084.1 503.1,1070.1 503.6,1085.6 504.2,1061.3 504.7,1091.3 505.2,1074.8 505.7,1084.7 506.2,1074.3 506.7,1063.2 507.2,1074.5 507.8,1077.0 508.3,1078.9 508.8,1077.9 509.3,1080.7 509.8,1071.5 510.3,1060.7 510.9,1072.7 511.4,1063.8 511.9,1075.2 512.4,1074.4 512.9,1077.8 513.4,1072.2 513.9,1083.4 514.5,1083.1 515.0,1084.3 515.5,1081.5 516.0,1085.2 516.5,1087.1 517.0,1079.2 517.5,1057.6 518.1,1072.7 518.6,1094.0 519.1,1058.4 519.6,1080.2 520.1,1073.7 520.6,1093.5 521.1,1083.5 521.7,1077.4 522.2,1080.2 522.7,1064.4 523.2,1099.4 523.7,1087.5 524.2,1072.3 524.8,1075.6 525.3,1086.5 525.8,1074.9 526.3,1073.6 526.8,1089.9 527.3,1080.8 527.8,1086.0 528.4,1091.2 528.9,1074.8 529.4,1097.5 529.9,1091.8 530.4,1073.3 530.9,1071.1 531.4,1084.6 532.0,1086.6 532.5,1076.9 533.0,1081.5 533.5,1081.9 534.0,1080.9 534.5,1087.9 535.0,1099.0 535.6,1102.4 536.1,1077.4 536.6,1084.6 537.1,1079.7 537.6,1084.8 538.1,1081.8 538.6,1105.4 539.2,1094.8 539.7,1080.6 540.2,1098.8 540.7,1079.9 541.2,1087.8 541.7,1092.1 542.3,1083.5 542.8,1080.0 543.3,1090.2 543.8,1094.8 544.3,1086.1 544.8,1104.2 545.3,1094.4 545.9,1082.9 546.4,1094.9 546.9,1085.4 547.4,1092.7 547.9,1094.8 548.4,1093.6 548.9,1103.6 549.5,1091.0 550.0,1093.9 550.5,1086.7 551.0,1069.3 551.5,1084.4 552.0,1090.9 552.5,1066.0 553.1,1092.9 553.6,1093.7 554.1,1100.5 554.6,1093.9 555.1,1100.7 555.6,1090.6 556.2,1086.7 556.7,1095.9 557.2,1081.4 557.7,1103.5 558.2,1080.5 558.7,1104.8 559.2,1086.2 559.8,1087.1 560.3,1081.9 560.8,1089.8 561.3,1093.0 561.8,1078.3 562.3,1076.0 562.8,1092.0 563.4,1078.7 563.9,1098.3 564.4,1103.5 564.9,1087.9 565.4,1122.5 565.9,1092.9 566.4,1083.4 567.0,1110.7 567.5,1098.0 568.0,1089.1 568.5,1093.7 569.0,1107.2 569.5,1109.4 570.1,1094.5 570.6,1085.1 571.1,1090.1 571.6,1101.7 572.1,1095.9 572.6,1098.8 573.1,1099.1 573.7,1110.5 574.2,1093.1 574.7,1095.1 575.2,1077.1 575.7,1095.1 576.2,1080.5 576.7,1089.7 577.3,1097.5 577.8,1091.3 578.3,1095.8 578.8,1076.3 579.3,1093.2 579.8,1098.6 580.3,1097.1 580.9,1100.8 581.4,1090.5 581.9,1103.2 582.4,1091.8 582.9,1094.5 583.4,1106.0 584.0,1110.1 584.5,1104.7 585.0,1086.7 585.5,1093.9 586.0,1092.4 586.5,1097.6 587.0,1111.5 587.6,1107.3 588.1,1085.7 588.6,1099.8 589.1,1099.0 589.6,1090.6 590.1,1093.0 590.6,1107.3 591.2,1095.1 591.7,1095.1 592.2,1092.3 592.7,1065.5 593.2,1097.5 593.7,1104.8 594.2,1115.2 594.8,1118.1 595.3,1087.5 595.8,1096.4 596.3,1091.6 596.8,1099.2 597.3,1086.7 597.9,1099.1 598.4,1102.6 598.9,1102.4 599.4,1100.4 599.9,1106.2 600.4,1095.0 600.9,1093.2 601.5,1096.7 602.0,1094.8 602.5,1101.1 603.0,1107.5 603.5,1097.1 604.0,1082.6 604.5,1083.3 605.1,1102.6 605.6,1104.5 606.1,1104.1 606.6,1075.6 607.1,1106.9 607.6,1125.1 608.1,1100.1 608.7,1098.5 609.2,1111.0 609.7,1094.4 610.2,1091.7 610.7,1112.4 611.2,1093.1 611.8,1108.1 612.3,1097.3 612.8,1099.5 613.3,1094.3 613.8,1107.2 614.3,1102.3 614.8,1101.6 615.4,1099.2 615.9,1098.2 616.4,1113.6 616.9,1111.3 617.4,1112.8 617.9,1093.7 618.4,1108.2 619.0,1089.4 619.5,1118.9 620.0,1121.2 620.5,1117.8 621.0,1109.7 621.5,1110.7 622.0,1104.2 622.6,1098.5 623.1,1114.0 623.6,1115.5 624.1,1102.4 624.6,1093.7 625.1,1101.5 625.7,1102.7 626.2,1100.2 626.7,1089.7 627.2,1093.1 627.7,1106.7 628.2,1123.4 628.7,1093.4 629.3,1108.0 629.8,1103.6 630.3,1110.7 630.8,1107.2 631.3,1116.6 631.8,1106.9 632.3,1100.3 632.9,1108.3 633.4,1107.3 633.9,1113.9 634.4,1111.4 634.9,1111.5 635.4,1106.3 635.9,1104.4 636.5,1103.5 637.0,1107.7 637.5,1116.8 638.0,1119.3 638.5,1100.2 639.0,1103.9 639.6,1105.3 640.1,1122.1 640.6,1097.7 641.1,1106.2 641.6,1084.1 642.1,1108.5 642.6,1096.7 643.2,1105.1 643.7,1113.4 644.2,1092.6 644.7,1083.9 645.2,1108.6 645.7,1099.1 646.2,1109.6 646.8,1118.4 647.3,1095.9 647.8,1086.9 648.3,1096.9 648.8,1089.0 649.3,1097.4 649.8,1114.6 650.4,1097.2 650.9,1091.1 651.4,1108.4 651.9,1109.6 652.4,1085.6 652.9,1105.5 653.5,1100.1 654.0,1108.4 654.5,1097.6 655.0,1100.7 655.5,1094.6 656.0,1125.0 656.5,1110.1 657.1,1111.9 657.6,1111.8 658.1,1106.4 658.6,1117.3 659.1,1110.5 659.6,1129.3 660.1,1113.7 660.7,1120.3 661.2,1093.5 661.7,1100.6 662.2,1101.5 662.7,1092.1 663.2,1100.7 663.7,1101.0 664.3,1095.2 664.8,1112.8 665.3,1100.1 665.8,1106.4 666.3,1091.4 666.8,1103.2 667.3,1098.2 667.9,1098.3 668.4,1114.6 668.9,1108.7 669.4,1095.6 669.9,1096.4 670.4,1111.9 671.0,1097.8 671.5,1102.9 672.0,1117.3 672.5,1116.0 673.0,1104.9 673.5,1104.2 674.0,1106.6 674.6,1102.6 675.1,1104.6 675.6,1115.4 676.1,1107.8 676.6,1106.4 677.1,1102.5 677.6,1112.5 678.2,1099.7 678.7,1108.2 679.2,1093.8 679.7,1100.6 680.2,1106.3 680.7,1097.8 681.2,1105.6 681.8,1104.0 682.3,1098.7 682.8,1108.8 683.3,1105.1 683.8,1098.9 684.3,1104.1 684.9,1110.3 685.4,1093.2 685.9,1091.0 686.4,1110.0 686.9,1092.8 687.4,1096.3 687.9,1081.1 688.5,1098.4 689.0,1102.7 689.5,1087.6 690.0,1103.6 690.5,1088.6 691.0,1096.3 691.5,1110.4 692.1,1114.1 692.6,1098.5 693.1,1111.2 693.6,1093.7 694.1,1107.9 694.6,1084.9 695.1,1103.4 695.7,1096.7 696.2,1089.7 696.7,1097.0 697.2,1095.7 697.7,1097.3 698.2,1104.5 698.8,1091.4 699.3,1091.5 699.8,1097.8 700.3,1093.1 700.8,1097.4 701.3,1086.7 701.8,1104.8 702.4,1088.7 702.9,1105.6 703.4,1105.0 703.9,1090.9 704.4,1103.3 704.9,1109.6 705.4,1094.9 706.0,1100.9 706.5,1088.8 707.0,1106.6 707.5,1098.7 708.0,1111.0 708.5,1105.3 709.0,1096.6 709.6,1088.7 710.1,1108.3 710.6,1106.8 711.1,1093.6 711.6,1105.0 712.1,1100.2 712.7,1093.7 713.2,1089.3 713.7,1095.2 714.2,1104.6 714.7,1087.2 715.2,1093.8 715.7,1094.5 716.3,1088.9 716.8,1086.6 717.3,1098.9 717.8,1104.7 718.3,1092.7 718.8,1084.4 719.3,1094.9 719.9,1091.5 720.4,1096.5 720.9,1084.2 721.4,1100.8 721.9,1088.9 722.4,1103.1 722.9,1092.5 723.5,1088.5 724.0,1090.7 724.5,1097.4 725.0,1097.1 725.5,1101.2 726.0,1080.7 726.6,1086.2 727.1,1090.2 727.6,1073.1 728.1,1088.3 728.6,1096.1 729.1,1085.8 729.6,1091.3 730.2,1086.3 730.7,1090.9 731.2,1081.8 731.7,1100.3 732.2,1102.1 732.7,1093.1 733.2,1107.1 733.8,1094.9 734.3,1089.3 734.8,1072.0 735.3,1080.8 735.8,1095.8 736.3,1103.7 736.8,1084.7 737.4,1096.8 737.9,1082.5 738.4,1086.1 738.9,1082.6 739.4,1084.6 739.9,1083.4 740.5,1090.2 741.0,1076.4 741.5,1101.6 742.0,1092.7 742.5,1068.9 743.0,1072.1 743.5,1105.5 744.1,1075.2 744.6,1089.5 745.1,1074.6 745.6,1111.5 746.1,1068.4 746.6,1097.9 747.1,1085.9 747.7,1077.7 748.2,1077.7 748.7,1071.5 749.2,1060.1 749.7,1084.2 750.2,1096.5 750.7,1075.5 751.3,1082.1 751.8,1085.7 752.3,1063.3 752.8,1071.8 753.3,1061.2 753.8,1081.4 754.4,1065.4 754.9,1088.4 755.4,1083.2 755.9,1065.6 756.4,1078.1 756.9,1075.5 757.4,1067.8 758.0,1071.5 758.5,1073.7 759.0,1055.5 759.5,1083.4 760.0,1066.1 760.5,1064.3 761.0,1077.6 761.6,1062.2 762.1,1086.5 762.6,1081.8 763.1,1071.1 763.6,1083.9 764.1,1085.2 764.6,1066.6 765.2,1044.1 765.7,1054.9 766.2,1062.7 766.7,1076.4 767.2,1074.1 767.7,1067.1 768.3,1085.9 768.8,1064.1 769.3,1071.8 769.8,1053.5 770.3,1057.1 770.8,1062.9 771.3,1076.9 771.9,1038.9 772.4,1072.6 772.9,1049.3 773.4,1069.0 773.9,1057.1 774.4,1045.5 774.9,1050.1 775.5,1077.8 776.0,1056.5 776.5,1053.2 777.0,1043.2 777.5,1046.8 778.0,1069.3 778.5,1071.6 779.1,1076.0 779.6,1061.7 780.1,1052.6 780.6,1046.1 781.1,1070.4 781.6,1052.2 782.2,1043.8 782.7,1053.7 783.2,1055.9 783.7,1067.9 784.2,1055.7 784.7,1070.6 785.2,1065.8 785.8,1059.8 786.3,1036.0 786.8,1037.4 787.3,1059.6 787.8,1065.6 788.3,1075.7 788.8,1043.0 789.4,1066.4 789.9,1066.0 790.4,1070.2 790.9,1063.0 791.4,1059.9 791.9,1061.8 792.4,1066.4 793.0,1074.2 793.5,1055.8 794.0,1059.5 794.5,1057.1 795.0,1066.1 795.5,1041.7 796.0,1080.2 796.6,1068.6 797.1,1058.2 797.6,1066.1 798.1,1065.4 798.6,1063.3 799.1,1068.5 799.7,1094.6 800.2,1098.1 800.7,1051.6 801.2,1072.8 801.7,1074.3 802.2,1060.3 802.7,1068.8 803.3,1068.9 803.8,1071.6 804.3,1057.0 804.8,1061.0 805.3,1081.1 805.8,1079.3 806.3,1080.5 806.9,1080.2 807.4,1064.0 807.9,1080.1 808.4,1071.0 808.9,1083.4 809.4,1072.6 809.9,1081.0 810.5,1068.3 811.0,1089.6 811.5,1076.3 812.0,1080.8 812.5,1070.4 813.0,1092.5 813.6,1089.1 814.1,1095.8 814.6,1073.6 815.1,1088.5 815.6,1083.3 816.1,1082.0 816.6,1089.5 817.2,1082.5 817.7,1098.7 818.2,1076.9 818.7,1080.3 819.2,1081.5 819.7,1096.2 820.2,1081.3 820.8,1075.3 821.3,1094.3 821.8,1103.1 822.3,1086.5 822.8,1096.4 823.3,1090.0 823.8,1097.4 824.4,1099.9 824.9,1079.0 825.4,1112.9 825.9,1096.5 826.4,1107.4 826.9,1107.0 827.5,1089.8 828.0,1114.6 828.5,1096.6 829.0,1092.1 829.5,1105.7 830.0,1121.6 830.5,1115.6 831.1,1079.7 831.6,1097.8 832.1,1102.2 832.6,1096.4 833.1,1092.4 833.6,1095.4 834.1,1090.6 834.7,1114.6 835.2,1102.2 835.7,1090.6 836.2,1101.8 836.7,1113.8 837.2,1096.6 837.7,1110.6 838.3,1088.6 838.8,1096.8 839.3,1124.9 839.8,1101.5 840.3,1089.2 840.8,1115.3 841.4,1099.7 841.9,1112.2 842.4,1102.2 842.9,1088.8 843.4,1119.7 843.9,1103.6 844.4,1089.8 845.0,1116.0 845.5,1105.9 846.0,1126.0 846.5,1115.7 847.0,1107.5 847.5,1089.0 848.0,1088.9 848.6,1102.4 849.1,1089.5 849.6,1104.8 850.1,1113.3 850.6,1107.8 851.1,1116.8 851.6,1112.0 852.2,1107.0 852.7,1099.0 853.2,1095.0 853.7,1099.2 854.2,1101.8 854.7,1113.2 855.3,1098.6 855.8,1092.3 856.3,1090.9 856.8,1089.7 857.3,1090.9 857.8,1116.9 858.3,1108.7 858.9,1099.6 859.4,1102.1 859.9,1093.8 860.4,1086.2 860.9,1082.1 861.4,1095.6 861.9,1100.3 862.5,1103.5 863.0,1086.2 863.5,1096.2 864.0,1079.1 864.5,1091.8 865.0,1085.1 865.5,1090.8 866.1,1070.9 866.6,1085.7 867.1,1082.7 867.6,1078.2 868.1,1091.2 868.6,1085.6 869.2,1086.2 869.7,1092.8 870.2,1067.8 870.7,1083.5 871.2,1057.1 871.7,1071.5 872.2,1060.3 872.8,1062.8 873.3,1073.6 873.8,1077.8 874.3,1073.0 874.8,1075.6 875.3,1073.4 875.8,1062.5 876.4,1068.1 876.9,1059.0 877.4,1050.4 877.9,1068.4 878.4,1053.8 878.9,1039.2 879.4,1038.6 880.0,1056.0 880.5,1050.4 881.0,1046.2 881.5,1051.0 882.0,1042.8 882.5,1040.5 883.1,1031.8 883.6,1045.3 884.1,1052.8 884.6,1028.9 885.1,1028.0 885.6,1039.2 886.1,1037.4 886.7,1036.2 887.2,1020.4 887.7,1024.5 888.2,1013.7 888.7,1018.8 889.2,1000.0 889.7,1011.1 890.3,990.2 890.8,1020.9 891.3,982.3 891.8,995.4 892.3,1004.2 892.8,986.5 893.3,991.1 893.9,970.9 894.4,988.2 894.9,988.5 895.4,984.1 895.9,964.3 896.4,979.1 897.0,964.0 897.5,956.4 898.0,944.3 898.5,954.8 899.0,947.5 899.5,931.6 900.0,923.9 900.6,927.7 901.1,906.5 901.6,927.5 902.1,921.5 902.6,919.3 903.1,898.4 903.6,929.8 904.2,898.0 904.7,905.2 905.2,892.6 905.7,892.3 906.2,867.8 906.7,888.5 907.2,864.5 907.8,849.4 908.3,862.0 908.8,877.7 909.3,867.1 909.8,858.7 910.3,839.7 910.9,862.7 911.4,851.4 911.9,836.6 912.4,851.9 912.9,836.6 913.4,830.4 913.9,842.5 914.5,843.1 915.0,825.7 915.5,813.7 916.0,831.6 916.5,844.0 917.0,832.9 917.5,832.3 918.1,836.4 918.6,831.8 919.1,840.6 919.6,848.3 920.1,832.3 920.6,856.1 921.1,860.5 921.7,852.8 922.2,866.0 922.7,867.6 923.2,875.0 923.7,869.0 924.2,864.3 924.7,864.0 925.3,871.1 925.8,874.9 926.3,887.1 926.8,874.6 927.3,880.0 927.8,885.6 928.4,910.2 928.9,928.7 929.4,891.8 929.9,892.4 930.4,895.1 930.9,916.4 931.4,923.5 932.0,928.5 932.5,927.6 933.0,936.8 933.5,944.5 934.0,974.1 934.5,949.6 935.0,960.8 935.6,953.7 936.1,964.2 936.6,968.9 937.1,995.9 937.6,964.8 938.1,974.3 938.6,972.0 939.2,987.5 939.7,988.0 940.2,979.1 940.7,995.3 941.2,998.4 941.7,999.5 942.3,998.8 942.8,1013.0 943.3,1010.5 943.8,1014.0 944.3,1017.4 944.8,1014.4 945.3,1021.8 945.9,1026.9 946.4,1023.7 946.9,1039.8 947.4,1024.9 947.9,1045.4 948.4,1036.9 948.9,1037.9 949.5,1048.1 950.0,1048.2 950.5,1062.8 951.0,1050.5 951.5,1053.1 952.0,1067.3 952.5,1085.1 953.1,1061.9 953.6,1085.7 954.1,1097.8 954.6,1076.1 955.1,1094.5 955.6,1085.3 956.2,1084.4 956.7,1088.4 957.2,1091.3 957.7,1088.5 958.2,1099.3 958.7,1097.1 959.2,1121.8 959.8,1119.5 960.3,1109.2 960.8,1111.4 961.3,1122.7 961.8,1139.7 962.3,1133.2 962.8,1127.5 963.4,1138.3 963.9,1111.3 964.4,1113.6 964.9,1132.6 965.4,1124.1 965.9,1133.3 966.4,1132.1 967.0,1138.1 967.5,1141.1 968.0,1137.2 968.5,1138.4 969.0,1151.1 969.5,1144.5 970.1,1144.3 970.6,1145.5 971.1,1142.9 971.6,1141.8 972.1,1164.1 972.6,1142.3 973.1,1155.3 973.7,1154.4 974.2,1154.2 974.7,1160.0 975.2,1179.4 975.7,1172.8 976.2,1156.6 976.7,1146.4 977.3,1162.3 977.8,1159.6 978.3,1154.3 978.8,1168.4 979.3,1160.1 979.8,1159.4 980.3,1178.3 980.9,1172.5 981.4,1162.9 981.9,1177.8 982.4,1168.0 982.9,1162.5 983.4,1162.3 984.0,1164.1 984.5,1165.1 985.0,1160.5 985.5,1164.5 986.0,1157.3 986.5,1157.2 987.0,1171.9 987.6,1174.5 988.1,1168.7 988.6,1160.6 989.1,1167.9 989.6,1159.1 990.1,1160.3 990.6,1165.4 991.2,1174.6 991.7,1188.1 992.2,1176.9 992.7,1168.3 993.2,1164.3 993.7,1177.0 994.2,1180.3 994.8,1170.3 995.3,1181.2 995.8,1182.8 996.3,1173.6 996.8,1174.3 997.3,1168.1 997.9,1163.5 998.4,1173.9 998.9,1176.0 999.4,1170.9 999.9,1171.6 1000.4,1182.9 1000.9,1174.9 1001.5,1196.0 1002.0,1180.5 1002.5,1185.6 1003.0,1175.2 1003.5,1175.3 1004.0,1173.8 1004.5,1171.1 1005.1,1189.4 1005.6,1186.4 1006.1,1175.6 1006.6,1182.1 1007.1,1182.4 1007.6,1176.1 1008.1,1182.2 1008.7,1174.8 1009.2,1182.4 1009.7,1187.6 1010.2,1181.0 1010.7,1192.4 1011.2,1188.6 1011.8,1172.4 1012.3,1186.3 1012.8,1183.0 1013.3,1182.1 1013.8,1174.7 1014.3,1191.6 1014.8,1178.3 1015.4,1192.0 1015.9,1191.0 1016.4,1195.9 1016.9,1183.6 1017.4,1196.0 1017.9,1181.2 1018.4,1200.3 1019.0,1191.5 1019.5,1188.7 1020.0,1190.4 1020.5,1196.1 1021.0,1183.5 1021.5,1190.9 1022.0,1186.0 1022.6,1190.9 1023.1,1185.2 1023.6,1191.8 1024.1,1198.3 1024.6,1185.2 1025.1,1191.7 1025.7,1200.3 1026.2,1195.2 1026.7,1201.1 1027.2,1182.8 1027.7,1186.3 1028.2,1193.5 1028.7,1201.6 1029.3,1189.2 1029.8,1200.9 1030.3,1186.6 1030.8,1205.1 1031.3,1186.1 1031.8,1205.6 1032.3,1189.7 1032.9,1191.1 1033.4,1187.3 1033.9,1192.6 1034.4,1211.0 1034.9,1198.2 1035.4,1192.4 1035.9,1190.9 1036.5,1200.6 1037.0,1184.5 1037.5,1199.0 1038.0,1198.8 1038.5,1192.7 1039.0,1196.8 1039.6,1194.2 1040.1,1199.2 1040.6,1195.5 1041.1,1201.6 1041.6,1192.1 1042.1,1198.2 1042.6,1196.1 1043.2,1190.0 1043.7,1188.5 1044.2,1204.7 1044.7,1179.4 1045.2,1177.5 1045.7,1202.5 1046.2,1204.5 1046.8,1204.4 1047.3,1210.0 1047.8,1202.6 1048.3,1205.1 1048.8,1199.4 1049.3,1203.5 1049.8,1213.1 1050.4,1203.0 1050.9,1192.7 1051.4,1190.3 1051.9,1206.7 1052.4,1190.7 1052.9,1195.7 1053.4,1195.2 1054.0,1218.1 1054.5,1199.4 1055.0,1198.5 1055.5,1207.7 1056.0,1203.4 1056.5,1186.8 1057.1,1198.1 1057.6,1183.5 1058.1,1202.4 1058.6,1206.4 1059.1,1200.3 1059.6,1215.2 1060.1,1182.9 1060.7,1212.6 1061.2,1198.9 1061.7,1202.5 1062.2,1196.7 1062.7,1201.2 1063.2,1204.3 1063.7,1191.3 1064.3,1196.7 1064.8,1193.9 1065.3,1193.2 1065.8,1204.3 1066.3,1199.9 1066.8,1206.0 1067.3,1200.4 1067.9,1203.1 1068.4,1218.8 1068.9,1209.5 1069.4,1194.4 1069.9,1195.7 1070.4,1204.6 1071.0,1207.9 1071.5,1196.7 1072.0,1192.0 1072.5,1200.2 1073.0,1212.6 1073.5,1204.6 1074.0,1198.5 1074.6,1200.9 1075.1,1196.3 1075.6,1206.6 1076.1,1190.5 1076.6,1199.4 1077.1,1206.0 1077.6,1198.9 1078.2,1207.8 1078.7,1208.9 1079.2,1215.0 1079.7,1201.9 1080.2,1194.4 1080.7,1192.4 1081.2,1202.1 1081.8,1189.2 1082.3,1211.1 1082.8,1195.9 1083.3,1195.8 1083.8,1198.8 1084.3,1205.2 1084.9,1199.4 1085.4,1205.7 1085.9,1200.9 1086.4,1208.0 1086.9,1214.7 1087.4,1198.4 1087.9,1204.5 1088.5,1192.6 1089.0,1204.0 1089.5,1217.1 1090.0,1212.2 1090.5,1219.7 1091.0,1207.0 1091.5,1198.1 1092.1,1213.3 1092.6,1221.4 1093.1,1205.5 1093.6,1200.1 1094.1,1195.6 1094.6,1207.5 1095.1,1215.9 1095.7,1196.9 1096.2,1202.5 1096.7,1200.7 1097.2,1211.6 1097.7,1203.1 1098.2,1215.8 1098.8,1199.4 1099.3,1204.5 1099.8,1205.5 1100.3,1203.6 1100.8,1206.6 1101.3,1205.5 1101.8,1210.9 1102.4,1204.2 1102.9,1205.4 1103.4,1201.5 1103.9,1212.3 1104.4,1210.5 1104.9,1193.3 1105.4,1211.5 1106.0,1216.0 1106.5,1197.3 1107.0,1203.1 1107.5,1211.5 1108.0,1209.0 1108.5,1204.3 1109.0,1217.6 1109.6,1204.6 1110.1,1209.5 1110.6,1217.7 1111.1,1203.3 1111.6,1211.6 1112.1,1199.2 1112.7,1202.7 1113.2,1208.0 1113.7,1203.1 1114.2,1204.3 1114.7,1204.7 1115.2,1201.5 1115.7,1210.5 1116.3,1218.7 1116.8,1203.1 1117.3,1192.1 1117.8,1202.2 1118.3,1202.2 1118.8,1211.9 1119.3,1209.8 1119.9,1197.3 1120.4,1208.6 1120.9,1195.9 1121.4,1211.2 1121.9,1217.4 1122.4,1198.6 1122.9,1210.7 1123.5,1203.6 1124.0,1202.4 1124.5,1208.3 1125.0,1210.2 1125.5,1203.6 1126.0,1202.5 1126.6,1203.7 1127.1,1211.2 1127.6,1223.0 1128.1,1213.8 1128.6,1190.5 1129.1,1208.2 1129.6,1191.1 1130.2,1215.8 1130.7,1211.4 1131.2,1214.7 1131.7,1215.1 1132.2,1208.5 1132.7,1206.3 1133.2,1217.5 1133.8,1205.4 1134.3,1211.9 1134.8,1201.4 1135.3,1201.9 1135.8,1211.5 1136.3,1204.8 1136.8,1203.4 1137.4,1210.7 1137.9,1189.0 1138.4,1196.6 1138.9,1204.6 1139.4,1216.6 1139.9,1212.3 1140.5,1210.0 1141.0,1199.2 1141.5,1209.3 1142.0,1203.9 1142.5,1194.5 1143.0,1198.1 1143.5,1220.9 1144.1,1206.9 1144.6,1206.3 1145.1,1212.8 1145.6,1213.2 1146.1,1207.2 1146.6,1206.1 1147.1,1200.3 1147.7,1223.2 1148.2,1213.8 1148.7,1208.7 1149.2,1208.5 1149.7,1201.2 1150.2,1216.9 1150.7,1226.2 1151.3,1203.1 1151.8,1208.9 1152.3,1221.8 1152.8,1207.3 1153.3,1198.9 1153.8,1193.6 1154.4,1212.5 1154.9,1206.2 1155.4,1214.5 1155.9,1201.0 1156.4,1215.0 1156.9,1207.6 1157.4,1196.5 1158.0,1211.6 1158.5,1209.0 1159.0,1198.9 1159.5,1211.8 1160.0,1203.5 1160.5,1200.7 1161.0,1202.7 1161.6,1202.3 1162.1,1208.3 1162.6,1203.9 1163.1,1201.5 1163.6,1203.4 1164.1,1208.3 1164.6,1209.2 1165.2,1201.9 1165.7,1206.1 1166.2,1200.1 1166.7,1192.0 1167.2,1205.6 1167.7,1216.8 1168.3,1205.5 1168.8,1205.4 1169.3,1196.5 1169.8,1200.4 1170.3,1211.5 1170.8,1198.5 1171.3,1201.2 1171.9,1198.5 1172.4,1219.6 1172.9,1215.0 1173.4,1212.3 1173.9,1217.7 1174.4,1208.1 1174.9,1205.7 1175.5,1207.2 1176.0,1208.9 1176.5,1212.3 1177.0,1190.8 1177.5,1186.9 1178.0,1207.7 1178.5,1199.5 1179.1,1203.8 1179.6,1204.5 1180.1,1181.9 1180.6,1199.5 1181.1,1194.2 1181.6,1192.5 1182.1,1192.6 1182.7,1220.2 1183.2,1197.8 1183.7,1189.2 1184.2,1203.8 1184.7,1200.8 1185.2,1206.6 1185.8,1193.2 1186.3,1200.8 1186.8,1187.5 1187.3,1200.7 1187.8,1190.2 1188.3,1194.8 1188.8,1187.9 1189.4,1187.5 1189.9,1191.8 1190.4,1188.9 1190.9,1182.3 1191.4,1204.2 1191.9,1190.5 1192.4,1182.7 1193.0,1176.6 1193.5,1189.2 1194.0,1192.5 1194.5,1174.3 1195.0,1184.0 1195.5,1189.1 1196.0,1182.5 1196.6,1183.2 1197.1,1193.0 1197.6,1173.6 1198.1,1170.3 1198.6,1177.6 1199.1,1179.4 1199.7,1191.3 1200.2,1192.2 1200.7,1176.1 1201.2,1182.6 1201.7,1177.2 1202.2,1178.3 1202.7,1190.3 1203.3,1174.6 1203.8,1187.9 1204.3,1178.8 1204.8,1186.2 1205.3,1172.5 1205.8,1164.3 1206.3,1190.9 1206.9,1197.7 1207.4,1189.5 1207.9,1175.5 1208.4,1175.2 1208.9,1174.6 1209.4,1172.4 1209.9,1187.6 1210.5,1174.4 1211.0,1181.1 1211.5,1168.6 1212.0,1175.4 1212.5,1158.4 1213.0,1157.3 1213.6,1154.5 1214.1,1167.5 1214.6,1171.4 1215.1,1154.2 1215.6,1156.7 1216.1,1147.2 1216.6,1145.7 1217.2,1136.9 1217.7,1158.1 1218.2,1138.8 1218.7,1135.0 1219.2,1138.7 1219.7,1136.1 1220.2,1135.3 1220.8,1130.8 1221.3,1145.9 1221.8,1133.5 1222.3,1133.8 1222.8,1128.9 1223.3,1120.8 1223.8,1126.0 1224.4,1121.0 1224.9,1125.5 1225.4,1121.4 1225.9,1111.6 1226.4,1119.1 1226.9,1108.2 1227.5,1116.5 1228.0,1100.3 1228.5,1101.8 1229.0,1098.6 1229.5,1091.1 1230.0,1094.6 1230.5,1087.5 1231.1,1085.9 1231.6,1101.6 1232.1,1088.2 1232.6,1072.8 1233.1,1081.9 1233.6,1070.3 1234.1,1061.9 1234.7,1062.8 1235.2,1077.2 1235.7,1050.7 1236.2,1055.1 1236.7,1051.5 1237.2,1052.0 1237.7,1062.8 1238.3,1050.6 1238.8,1058.7 1239.3,1040.8 1239.8,1052.6 1240.3,1038.3 1240.8,1044.8 1241.4,1032.7 1241.9,1044.1 1242.4,1046.4 1242.9,1021.3 1243.4,1019.9 1243.9,1028.2 1244.4,1022.3 1245.0,1004.4 1245.5,1011.6 1246.0,1018.1 1246.5,1027.4 1247.0,1002.3 1247.5,997.0 1248.0,1007.1 1248.6,999.7 1249.1,994.9 1249.6,995.3 1250.1,993.9 1250.6,1002.1 1251.1,993.0 1251.6,990.0 1252.2,1002.9 1252.7,1001.7 1253.2,993.8 1253.7,999.5 1254.2,994.8 1254.7,1022.5 1255.3,1022.7 1255.8,1013.5 1256.3,1008.8 1256.8,1021.1 1257.3,1021.8 1257.8,999.9 1258.3,1032.7 1258.9,1020.8 1259.4,1009.4 1259.9,1033.8 1260.4,1014.4 1260.9,1034.0 1261.4,1046.0 1261.9,1050.0 1262.5,1044.0 1263.0,1036.6 1263.5,1055.0 1264.0,1058.2 1264.5,1067.3 1265.0,1044.5 1265.5,1059.0 1266.1,1062.9 1266.6,1061.1 1267.1,1063.6 1267.6,1069.5 1268.1,1061.8 1268.6,1072.7 1269.2,1080.0 1269.7,1063.7 1270.2,1081.6 1270.7,1079.1 1271.2,1087.8 1271.7,1098.9 1272.2,1084.5 1272.8,1081.0 1273.3,1104.0 1273.8,1094.6 1274.3,1080.9 1274.8,1103.4 1275.3,1102.9 1275.8,1091.5 1276.4,1105.4 1276.9,1113.9 1277.4,1103.8 1277.9,1120.2 1278.4,1121.1 1278.9,1129.3 1279.4,1137.2 1280.0,1129.2 1280.5,1129.2 1281.0,1140.9 1281.5,1138.1 1282.0,1152.1 1282.5,1134.3 1283.1,1129.5 1283.6,1153.4 1284.1,1142.8 1284.6,1141.9 1285.1,1147.9 1285.6,1162.0 1286.1,1139.0 1286.7,1130.6 1287.2,1144.5 1287.7,1145.8 1288.2,1162.7 1288.7,1153.7 1289.2,1159.8 1289.7,1157.8 1290.3,1150.4 1290.8,1169.9 1291.3,1165.2 1291.8,1175.1 1292.3,1163.8 1292.8,1155.6 1293.3,1170.5 1293.9,1178.3 1294.4,1169.9 1294.9,1160.8 1295.4,1168.5 1295.9,1181.5 1296.4,1183.5 1297.0,1166.8 1297.5,1171.0 1298.0,1159.3 1298.5,1177.2 1299.0,1179.3 1299.5,1206.7 1300.0,1181.1 1300.6,1194.8 1301.1,1185.1 1301.6,1180.4 1302.1,1191.7 1302.6,1198.6 1303.1,1179.0 1303.6,1192.5 1304.2,1197.7 1304.7,1181.8 1305.2,1193.0 1305.7,1192.4 1306.2,1196.9 1306.7,1208.9 1307.2,1189.2 1307.8,1189.5 1308.3,1200.8 1308.8,1197.8 1309.3,1196.7 1309.8,1181.5 1310.3,1198.4 1310.8,1198.1 1311.4,1196.9 1311.9,1194.4 1312.4,1195.8 1312.9,1196.1 1313.4,1209.8 1313.9,1204.2 1314.5,1206.6 1315.0,1203.9 1315.5,1207.0 1316.0,1197.7 1316.5,1213.6 1317.0,1207.9 1317.5,1212.5 1318.1,1205.0 1318.6,1208.3 1319.1,1210.8 1319.6,1206.6 1320.1,1200.3 1320.6,1209.4 1321.1,1218.6 1321.7,1213.4 1322.2,1202.5 1322.7,1212.8 1323.2,1217.1 1323.7,1213.8 1324.2,1207.0 1324.7,1202.7 1325.3,1220.5 1325.8,1215.3 1326.3,1234.8 1326.8,1217.8 1327.3,1219.5 1327.8,1209.9 1328.4,1219.1 1328.9,1227.9 1329.4,1217.2 1329.9,1214.3 1330.4,1204.1 1330.9,1216.4 1331.4,1198.9 1332.0,1221.0 1332.5,1223.6 1333.0,1209.4 1333.5,1213.8 1334.0,1215.8 1334.5,1204.1 1335.0,1208.6 1335.6,1214.2 1336.1,1209.8 1336.6,1223.2 1337.1,1223.0 1337.6,1218.4 1338.1,1223.5 1338.6,1207.8 1339.2,1219.4 1339.7,1220.5 1340.2,1220.3 1340.7,1217.0 1341.2,1219.7 1341.7,1226.3 1342.3,1217.6 1342.8,1208.1 1343.3,1218.1 1343.8,1217.3 1344.3,1211.3 1344.8,1223.4 1345.3,1227.5 1345.9,1227.0 1346.4,1223.6 1346.9,1222.5 1347.4,1210.5 1347.9,1214.1 1348.4,1226.9 1348.9,1208.8 1349.5,1216.5 1350.0,1230.8 1350.5,1212.8 1351.0,1222.8 1351.5,1229.3 1352.0,1213.8 1352.5,1207.0 1353.1,1213.2 1353.6,1224.0 1354.1,1219.0 1354.6,1231.5 1355.1,1231.8 1355.6,1214.7 1356.2,1227.9 1356.7,1222.9 1357.2,1225.8 1357.7,1219.0 1358.2,1217.1 1358.7,1220.5 1359.2,1229.7 1359.8,1223.4 1360.3,1226.0 1360.8,1226.9 1361.3,1225.3 1361.8,1221.1 1362.3,1213.6 1362.8,1224.1 1363.4,1228.0 1363.9,1225.3 1364.4,1220.2 1364.9,1232.8 1365.4,1219.3 1365.9,1229.8 1366.4,1232.9 1367.0,1230.1 1367.5,1230.5 1368.0,1226.8 1368.5,1221.3 1369.0,1214.2 1369.5,1227.0 1370.1,1228.1 1370.6,1214.5 1371.1,1239.6 1371.6,1229.9 1372.1,1229.1 1372.6,1227.6 1373.1,1226.0 1373.7,1230.9 1374.2,1229.0 1374.7,1218.6 1375.2,1225.1"/>
<polyline fill="none" stroke="#00ff00" stroke-width="3" stroke-linejoin="round" stroke-linecap="butt" points="345.6,946.7 346.1,935.2 346.6,937.4 347.1,948.5 347.7,952.7 348.2,957.6 348.7,952.4 349.2,973.1 349.7,948.6 350.2,951.4 350.7,941.9 351.3,935.2 351.8,940.2 352.3,950.8 352.8,927.3 353.3,914.5 353.8,927.5 354.4,946.3 354.9,925.9 355.4,940.0 355.9,952.7 356.4,943.0 356.9,912.9 357.4,938.4 358.0,927.5 358.5,931.7 359.0,920.4 359.5,935.8 360.0,942.3 360.5,927.7 361.0,917.5 361.6,919.3 362.1,951.4 362.6,929.9 363.1,923.9 363.6,940.2 364.1,923.0 364.6,926.8 365.2,918.6 365.7,934.5 366.2,930.8 366.7,946.2 367.2,928.9 367.7,923.7 368.3,917.2 368.8,935.1 369.3,920.7 369.8,928.2 370.3,922.2 370.8,945.9 371.3,917.4 371.9,911.1 372.4,928.9 372.9,925.0 373.4,923.6 373.9,937.0 374.4,935.4 374.9,934.0 375.5,948.2 376.0,920.7 376.5,939.8 377.0,921.2 377.5,932.7 378.0,896.6 378.5,920.3 379.1,933.2 379.6,937.5 380.1,925.7 380.6,914.3 381.1,937.5 381.6,944.3 382.2,904.9 382.7,926.4 383.2,930.7 383.7,929.3 384.2,907.9 384.7,927.6 385.2,925.1 385.8,920.4 386.3,932.8 386.8,933.3 387.3,917.8 387.8,940.0 388.3,909.9 388.8,945.1 389.4,902.8 389.9,937.4 390.4,908.2 390.9,926.9 391.4,930.4 391.9,912.5 392.4,928.4 393.0,908.9 393.5,913.4 394.0,921.2 394.5,920.6 395.0,924.3 395.5,925.9 396.1,949.9 396.6,928.4 397.1,919.7 397.6,918.2 398.1,918.1 398.6,921.7 399.1,911.4 399.7,937.8 400.2,921.5 400.7,907.9 401.2,909.3 401.7,932.7 402.2,922.2 402.7,910.9 403.3,907.6 403.8,907.8 404.3,922.6 404.8,914.2 405.3,899.3 405.8,923.1 406.3,888.7 406.9,909.6 407.4,935.2 407.9,926.5 408.4,892.4 408.9,909.4 409.4,907.2 409.9,928.4 410.5,921.6 411.0,933.1 411.5,925.7 412.0,924.7 412.5,905.4 413.0,911.8 413.6,911.9 414.1,901.4 414.6,932.9 415.1,921.8 415.6,896.0 416.1,928.0 416.6,907.0 417.2,925.5 417.7,909.9 418.2,904.1 418.7,903.2 419.2,897.9 419.7,907.7 420.2,895.9 420.8,921.2 421.3,905.8 421.8,912.4 422.3,919.4 422.8,900.4 423.3,895.9 423.8,935.0 424.4,893.8 424.9,904.5 425.4,919.9 425.9,919.4 426.4,910.2 426.9,899.9 427.5,928.7 428.0,921.7 428.5,913.9 429.0,913.2 429.5,925.2 430.0,929.7 430.5,916.2 431.1,915.6 431.6,923.1 432.1,887.0 432.6,934.3 433.1,900.9 433.6,912.9 434.1,921.9 434.7,913.3 435.2,929.7 435.7,938.9 436.2,915.9 436.7,923.8 437.2,922.3 437.7,929.3 438.3,915.6 438.8,914.0 439.3,912.7 439.8,917.0 440.3,927.4 440.8,902.9 441.4,924.9 441.9,914.1 442.4,912.3 442.9,894.9 443.4,905.1 443.9,928.0 444.4,909.3 445.0,933.7 445.5,905.2 446.0,900.4 446.5,919.3 447.0,904.2 447.5,922.1 448.0,928.5 448.6,922.4 449.1,917.3 449.6,906.1 450.1,923.5 450.6,923.6 451.1,915.1 451.6,916.6 452.2,911.9 452.7,921.5 453.2,920.0 453.7,917.3 454.2,925.0 454.7,927.3 455.3,924.8 455.8,921.7 456.3,918.8 456.8,931.6 457.3,922.7 457.8,935.0 458.3,929.3 458.9,942.6 459.4,923.4 459.9,923.3 460.4,932.3 460.9,928.8 461.4,924.8 461.9,926.4 462.5,933.1 463.0,926.2 463.5,910.7 464.0,916.3 464.5,943.3 465.0,919.0 465.5,924.8 466.1,923.2 466.6,923.2 467.1,926.5 467.6,938.8 468.1,927.5 468.6,922.3 469.2,928.2 469.7,933.7 470.2,909.5 470.7,946.0 471.2,913.6 471.7,931.0 472.2,943.9 472.8,938.2 473.3,941.5 473.8,939.9 474.3,925.0 474.8,952.7 475.3,969.6 475.8,938.0 476.4,934.2 476.9,933.1 477.4,933.0 477.9,931.5 478.4,944.0 478.9,925.4 479.4,949.3 480.0,923.1 480.5,916.8 481.0,927.3 481.5,933.6 482.0,928.7 482.5,935.1 483.1,928.3 483.6,926.4 484.1,929.9 484.6,922.1 485.1,926.5 485.6,930.2 486.1,914.5 486.7,961.9 487.2,913.4 487.7,933.3 488.2,941.4 488.7,938.1 489.2,949.9 489.7,941.5 490.3,933.6 490.8,943.0 491.3,949.9 491.8,956.7 492.3,939.4 492.8,950.2 493.3,942.7 493.9,928.6 494.4,919.5 494.9,933.6 495.4,930.0 495.9,916.4 496.4,943.2 497.0,949.7 497.5,947.1 498.0,926.9 498.5,932.5 499.0,925.4 499.5,938.3 500.0,937.5 500.6,939.3 501.1,936.3 501.6,954.3 502.1,942.8 502.6,941.2 503.1,942.4 503.6,960.4 504.2,940.5 504.7,950.1 505.2,933.7 505.7,953.7 506.2,944.4 506.7,924.6 507.2,955.1 507.8,928.7 508.3,931.6 508.8,949.1 509.3,950.9 509.8,943.7 510.3,942.5 510.9,940.1 511.4,942.4 511.9,938.0 512.4,934.4 512.9,956.3 513.4,941.0 513.9,957.9 514.5,960.8 515.0,952.4 515.5,949.1 516.0,931.8 516.5,934.6 517.0,934.1 517.5,933.9 518.1,950.2 518.6,929.1 519.1,950.0 519.6,955.2 520.1,949.0 520.6,953.9 521.1,915.2 521.7,943.7 522.2,948.0 522.7,945.8 523.2,946.1 523.7,942.8 524.2,941.2 524.8,943.3 525.3,955.2 525.8,932.8 526.3,940.7 526.8,953.6 527.3,942.2 527.8,943.9 528.4,932.6 528.9,935.5 529.4,947.4 529.9,920.4 530.4,934.3 530.9,947.8 531.4,947.2 532.0,947.7 532.5,951.7 533.0,927.1 533.5,927.3 534.0,942.1 534.5,932.1 535.0,926.9 535.6,944.2 536.1,950.8 536.6,953.0 537.1,947.5 537.6,942.8 538.1,965.3 538.6,944.1 539.2,943.5 539.7,943.9 540.2,947.9 540.7,947.6 541.2,952.9 541.7,942.9 542.3,955.3 542.8,960.1 543.3,958.6 543.8,952.7 544.3,949.3 544.8,971.2 545.3,954.8 545.9,971.1 546.4,975.3 546.9,935.5 547.4,965.9 547.9,957.6 548.4,946.3 548.9,963.1 549.5,963.7 550.0,960.2 550.5,965.4 551.0,956.4 551.5,957.1 552.0,974.9 552.5,965.9 553.1,948.1 553.6,934.7 554.1,950.8 554.6,942.6 555.1,948.2 555.6,962.8 556.2,953.2 556.7,952.2 557.2,955.3 557.7,977.4 558.2,975.1 558.7,961.0 559.2,954.5 559.8,963.1 560.3,946.3 560.8,945.0 561.3,957.6 561.8,951.9 562.3,954.2 562.8,958.9 563.4,958.6 563.9,968.2 564.4,949.9 564.9,959.4 565.4,961.8 565.9,967.7 566.4,959.9 567.0,948.5 567.5,936.8 568.0,955.5 568.5,943.2 569.0,956.5 569.5,959.0 570.1,948.7 570.6,961.6 571.1,964.3 571.6,948.2 572.1,956.6 572.6,955.2 573.1,937.5 573.7,950.8 574.2,962.5 574.7,959.5 575.2,967.3 575.7,948.3 576.2,956.0 576.7,951.5 577.3,955.5 577.8,955.0 578.3,962.7 578.8,965.4 579.3,965.7 579.8,956.4 580.3,965.2 580.9,954.8 581.4,963.0 581.9,975.9 582.4,977.4 582.9,966.7 583.4,951.0 584.0,967.1 584.5,981.5 585.0,972.0 585.5,968.8 586.0,965.5 586.5,961.7 587.0,951.6 587.6,960.7 588.1,954.3 588.6,969.3 589.1,972.8 589.6,961.6 590.1,956.3 590.6,955.9 591.2,962.5 591.7,971.3 592.2,966.1 592.7,937.3 593.2,958.9 593.7,983.2 594.2,965.5 594.8,966.3 595.3,967.2 595.8,956.2 596.3,944.5 596.8,972.5 597.3,943.3 597.9,969.1 598.4,962.8 598.9,963.9 599.4,948.9 599.9,966.3 600.4,953.4 600.9,953.0 601.5,955.2 602.0,961.3 602.5,957.1 603.0,964.1 603.5,975.4 604.0,969.9 604.5,957.8 605.1,974.5 605.6,959.6 606.1,957.7 606.6,980.9 607.1,967.1 607.6,955.2 608.1,974.7 608.7,970.0 609.2,974.4 609.7,971.6 610.2,953.7 610.7,961.7 611.2,979.4 611.8,959.6 612.3,961.6 612.8,960.1 613.3,958.8 613.8,971.1 614.3,969.5 614.8,967.7 615.4,967.3 615.9,961.4 616.4,974.4 616.9,980.6 617.4,976.1 617.9,961.1 618.4,973.3 619.0,971.0 619.5,966.9 620.0,958.2 620.5,965.3 621.0,971.7 621.5,966.8 622.0,962.8 622.6,970.4 623.1,967.7 623.6,963.5 624.1,978.3 624.6,979.4 625.1,977.3 625.7,961.2 626.2,986.2 626.7,983.9 627.2,960.4 627.7,972.5 628.2,986.4 628.7,985.7 629.3,952.0 629.8,969.3 630.3,967.1 630.8,971.1 631.3,975.5 631.8,987.7 632.3,977.7 632.9,978.0 633.4,966.4 633.9,982.3 634.4,977.7 634.9,973.1 635.4,980.1 635.9,971.5 636.5,961.2 637.0,964.1 637.5,988.6 638.0,977.8 638.5,977.5 639.0,1000.8 639.6,967.3 640.1,972.8 640.6,970.7 641.1,966.0 641.6,977.6 642.1,973.4 642.6,978.9 643.2,950.6 643.7,980.9 644.2,982.5 644.7,985.1 645.2,971.8 645.7,977.9 646.2,966.5 646.8,955.6 647.3,994.1 647.8,977.8 648.3,976.2 648.8,984.1 649.3,963.1 649.8,967.6 650.4,991.4 650.9,980.8 651.4,996.7 651.9,979.2 652.4,993.7 652.9,976.5 653.5,978.9 654.0,973.6 654.5,982.3 655.0,976.2 655.5,966.8 656.0,968.8 656.5,984.3 657.1,967.8 657.6,974.5 658.1,967.3 658.6,981.4 659.1,974.9 659.6,990.8 660.1,980.1 660.7,985.9 661.2,968.4 661.7,984.7 662.2,956.5 662.7,987.3 663.2,978.7 663.7,987.9 664.3,961.1 664.8,976.7 665.3,960.8 665.8,974.5 666.3,972.1 666.8,967.7 667.3,961.6 667.9,983.5 668.4,984.6 668.9,975.5 669.4,986.2 669.9,978.4 670.4,975.2 671.0,972.7 671.5,988.6 672.0,971.2 672.5,979.1 673.0,975.9 673.5,969.1 674.0,981.2 674.6,963.5 675.1,979.1 675.6,952.3 676.1,964.0 676.6,970.0 677.1,977.0 677.6,984.4 678.2,967.5 678.7,975.5 679.2,969.2 679.7,977.3 680.2,985.8 680.7,994.0 681.2,983.3 681.8,983.0 682.3,963.4 682.8,977.9 683.3,968.2 683.8,972.4 684.3,985.9 684.9,973.5 685.4,969.9 685.9,964.1 686.4,973.2 686.9,973.1 687.4,988.5 687.9,967.7 688.5,982.5 689.0,990.1 689.5,970.4 690.0,954.8 690.5,970.3 691.0,989.8 691.5,973.1 692.1,976.6 692.6,986.9 693.1,975.5 693.6,951.7 694.1,989.1 694.6,962.9 695.1,980.3 695.7,979.8 696.2,977.6 696.7,958.8 697.2,983.2 697.7,970.7 698.2,947.2 698.8,966.0 699.3,965.0 699.8,977.3 700.3,957.9 700.8,955.5 701.3,976.5 701.8,987.5 702.4,977.4 702.9,966.8 703.4,969.6 703.9,971.6 704.4,973.7 704.9,982.6 705.4,964.9 706.0,986.4 706.5,990.7 707.0,975.2 707.5,995.9 708.0,976.8 708.5,976.2 709.0,993.6 709.6,966.1 710.1,993.1 710.6,964.8 711.1,975.7 711.6,982.5 712.1,971.1 712.7,972.4 713.2,961.8 713.7,974.4 714.2,982.7 714.7,974.3 715.2,984.6 715.7,971.6 716.3,979.2 716.8,971.1 717.3,989.2 717.8,966.5 718.3,973.6 718.8,980.7 719.3,955.5 719.9,984.6 720.4,976.2 720.9,973.0 721.4,974.4 721.9,976.8 722.4,966.0 722.9,972.6 723.5,957.6 724.0,964.8 724.5,973.2 725.0,963.9 725.5,978.0 726.0,958.6 726.6,959.2 727.1,965.3 727.6,958.3 728.1,981.4 728.6,978.5 729.1,943.1 729.6,970.8 730.2,962.4 730.7,964.0 731.2,956.3 731.7,968.5 732.2,964.2 732.7,970.8 733.2,953.6 733.8,948.3 734.3,956.8 734.8,946.3 735.3,953.5 735.8,973.3 736.3,958.4 736.8,961.3 737.4,975.3 737.9,977.2 738.4,956.3 738.9,954.7 739.4,957.2 739.9,948.8 740.5,964.5 741.0,956.5 741.5,955.0 742.0,955.3 742.5,948.9 743.0,960.8 743.5,938.5 744.1,946.9 744.6,932.9 745.1,938.0 745.6,940.1 746.1,949.8 746.6,947.3 747.1,966.9 747.7,953.9 748.2,948.8 748.7,947.4 749.2,940.3 749.7,952.7 750.2,960.7 750.7,966.0 751.3,969.3 751.8,946.0 752.3,939.4 752.8,955.7 753.3,950.9 753.8,953.5 754.4,961.9 754.9,957.1 755.4,953.0 755.9,948.0 756.4,933.2 756.9,949.5 757.4,940.4 758.0,945.5 758.5,938.9 759.0,953.6 759.5,929.3 760.0,941.4 760.5,940.6 761.0,950.6 761.6,949.8 762.1,946.4 762.6,927.4 763.1,921.4 763.6,941.4 764.1,934.1 764.6,944.9 765.2,939.1 765.7,932.0 766.2,932.5 766.7,938.5 767.2,928.3 767.7,937.9 768.3,921.3 768.8,925.2 769.3,941.1 769.8,929.7 770.3,933.8 770.8,922.6 771.3,919.8 771.9,930.4 772.4,924.7 772.9,936.2 773.4,924.6 773.9,929.0 774.4,938.6 774.9,919.4 775.5,937.2 776.0,930.6 776.5,925.3 777.0,934.3 777.5,948.1 778.0,928.2 778.5,928.2 779.1,930.4 779.6,918.3 780.1,918.3 780.6,924.7 781.1,933.5 781.6,945.7 782.2,924.6 782.7,922.4 783.2,933.1 783.7,925.3 784.2,939.2 784.7,934.8 785.2,929.1 785.8,932.9 786.3,928.4 786.8,916.8 787.3,920.7 787.8,928.8 788.3,937.2 788.8,934.8 789.4,950.9 789.9,944.6 790.4,940.2 790.9,934.7 791.4,930.6 791.9,919.9 792.4,906.9 793.0,912.3 793.5,944.8 794.0,941.9 794.5,919.9 795.0,921.5 795.5,945.2 796.0,924.3 796.6,941.5 797.1,923.7 797.6,905.3 798.1,933.6 798.6,911.5 799.1,933.2 799.7,924.9 800.2,931.1 800.7,919.5 801.2,926.6 801.7,929.7 802.2,911.3 802.7,931.4 803.3,926.6 803.8,946.3 804.3,939.4 804.8,936.6 805.3,936.3 805.8,935.0 806.3,947.4 806.9,928.7 807.4,939.0 807.9,938.5 808.4,923.7 808.9,946.0 809.4,945.1 809.9,931.3 810.5,947.7 811.0,933.7 811.5,945.5 812.0,940.7 812.5,961.6 813.0,945.2 813.6,941.7 814.1,952.6 814.6,950.1 815.1,952.4 815.6,960.7 816.1,955.8 816.6,956.2 817.2,963.2 817.7,964.4 818.2,929.4 818.7,951.2 819.2,953.0 819.7,953.6 820.2,967.9 820.8,967.1 821.3,960.7 821.8,952.9 822.3,962.0 822.8,947.7 823.3,963.4 823.8,943.5 824.4,980.1 824.9,949.5 825.4,965.2 825.9,953.5 826.4,968.2 826.9,950.3 827.5,968.8 828.0,967.9 828.5,975.9 829.0,977.6 829.5,947.9 830.0,976.4 830.5,978.4 831.1,958.7 831.6,956.7 832.1,978.7 832.6,961.8 833.1,956.3 833.6,952.5 834.1,964.9 834.7,968.0 835.2,987.5 835.7,976.0 836.2,986.7 836.7,971.6 837.2,967.8 837.7,977.4 838.3,977.9 838.8,968.8 839.3,973.9 839.8,975.9 840.3,983.1 840.8,976.6 841.4,979.0 841.9,968.4 842.4,967.3 842.9,983.1 843.4,973.5 843.9,982.6 844.4,962.4 845.0,991.3 845.5,987.5 846.0,969.6 846.5,987.3 847.0,969.7 847.5,993.4 848.0,978.7 848.6,999.0 849.1,972.1 849.6,989.6 850.1,977.8 850.6,989.6 851.1,984.6 851.6,968.4 852.2,986.8 852.7,994.3 853.2,981.8 853.7,984.4 854.2,977.8 854.7,985.6 855.3,976.1 855.8,969.7 856.3,984.0 856.8,973.3 857.3,976.7 857.8,988.1 858.3,981.3 858.9,972.9 859.4,961.2 859.9,966.2 860.4,971.1 860.9,964.0 861.4,973.0 861.9,952.7 862.5,979.0 863.0,965.1 863.5,970.2 864.0,966.2 864.5,973.9 865.0,958.3 865.5,970.8 866.1,951.8 866.6,979.5 867.1,960.8 867.6,969.0 868.1,965.0 868.6,945.6 869.2,968.1 869.7,950.6 870.2,945.5 870.7,949.2 871.2,961.1 871.7,933.6 872.2,960.7 872.8,968.1 873.3,937.4 873.8,946.7 874.3,943.3 874.8,921.9 875.3,935.0 875.8,923.4 876.4,924.8 876.9,909.2 877.4,918.4 877.9,923.6 878.4,928.6 878.9,913.0 879.4,899.6 880.0,922.3 880.5,899.9 881.0,901.5 881.5,918.0 882.0,911.5 882.5,901.1 883.1,890.1 883.6,889.8 884.1,895.3 884.6,875.9 885.1,889.7 885.6,881.9 886.1,875.0 886.7,864.3 887.2,879.9 887.7,857.2 888.2,836.3 888.7,831.6 889.2,831.0 889.7,832.7 890.3,808.5 890.8,810.3 891.3,788.1 891.8,765.0 892.3,773.0 892.8,772.9 893.3,772.6 893.9,741.1 894.4,723.3 894.9,750.5 895.4,714.9 895.9,718.4 896.4,717.9 897.0,697.3 897.5,698.8 898.0,666.4 898.5,667.4 899.0,668.4 899.5,647.8 900.0,623.2 900.6,639.8 901.1,613.9 901.6,616.9 902.1,606.9 902.6,584.1 903.1,592.0 903.6,575.6 904.2,583.4 904.7,522.6 905.2,529.0 905.7,539.1 906.2,506.1 906.7,522.8 907.2,476.7 907.8,478.3 908.3,472.0 908.8,462.1 909.3,453.0 909.8,430.1 910.3,417.4 910.9,433.6 911.4,441.0 911.9,430.9 912.4,420.3 912.9,418.6 913.4,416.4 913.9,393.9 914.5,391.2 915.0,401.6 915.5,421.0 916.0,401.4 916.5,426.0 917.0,410.3 917.5,425.2 918.1,429.8 918.6,429.9 919.1,457.4 919.6,459.1 920.1,474.6 920.6,491.2 921.1,502.3 921.7,508.7 922.2,513.4 922.7,514.6 923.2,556.5 923.7,534.8 924.2,548.9 924.7,575.3 925.3,592.8 925.8,576.2 926.3,599.2 926.8,591.1 927.3,609.2 927.8,625.9 928.4,629.2 928.9,625.5 929.4,635.3 929.9,651.4 930.4,644.8 930.9,645.8 931.4,653.4 932.0,650.7 932.5,700.6 933.0,680.8 933.5,723.6 934.0,707.6 934.5,701.4 935.0,730.9 935.6,745.7 936.1,765.2 936.6,772.1 937.1,772.1 937.6,770.2 938.1,793.5 938.6,791.2 939.2,798.2 939.7,819.1 940.2,835.4 940.7,863.0 941.2,832.7 941.7,836.2 942.3,839.0 942.8,845.7 943.3,863.0 943.8,879.1 944.3,876.6 944.8,901.8 945.3,906.2 945.9,884.7 946.4,890.0 946.9,899.9 947.4,913.9 947.9,909.3 948.4,905.7 948.9,927.8 949.5,947.5 950.0,945.0 950.5,935.6 951.0,944.6 951.5,953.4 952.0,938.4 952.5,952.8 953.1,970.0 953.6,975.0 954.1,963.7 954.6,968.1 955.1,972.5 955.6,963.2 956.2,1004.1 956.7,982.2 957.2,985.2 957.7,1006.7 958.2,989.2 958.7,1001.4 959.2,993.1 959.8,977.6 960.3,988.2 960.8,1011.7 961.3,996.4 961.8,1002.4 962.3,987.5 962.8,999.5 963.4,1000.0 963.9,1013.3 964.4,1009.7 964.9,996.1 965.4,1019.1 965.9,1002.5 966.4,1015.5 967.0,1012.4 967.5,1020.8 968.0,1025.5 968.5,1002.3 969.0,1008.5 969.5,1018.8 970.1,1021.2 970.6,1017.0 971.1,1024.8 971.6,1027.8 972.1,1028.8 972.6,1030.2 973.1,1030.5 973.7,1036.3 974.2,1029.1 974.7,1023.6 975.2,1040.7 975.7,1040.3 976.2,1043.6 976.7,1047.6 977.3,1042.4 977.8,1035.2 978.3,1035.7 978.8,1020.7 979.3,1030.4 979.8,1032.0 980.3,1025.9 980.9,1054.6 981.4,1035.0 981.9,1042.1 982.4,1041.6 982.9,1042.2 983.4,1049.8 984.0,1040.0 984.5,1038.8 985.0,1048.8 985.5,1042.1 986.0,1031.5 986.5,1043.5 987.0,1047.3 987.6,1041.1 988.1,1051.8 988.6,1049.8 989.1,1049.9 989.6,1037.2 990.1,1051.7 990.6,1050.3 991.2,1063.3 991.7,1047.3 992.2,1056.4 992.7,1054.8 993.2,1054.5 993.7,1057.7 994.2,1055.0 994.8,1043.1 995.3,1057.2 995.8,1059.8 996.3,1061.7 996.8,1046.3 997.3,1053.2 997.9,1067.0 998.4,1068.1 998.9,1064.7 999.4,1061.0 999.9,1046.8 1000.4,1059.3 1000.9,1056.6 1001.5,1064.7 1002.0,1063.5 1002.5,1056.0 1003.0,1070.7 1003.5,1062.6 1004.0,1052.7 1004.5,1058.6 1005.1,1053.7 1005.6,1049.3 1006.1,1062.2 1006.6,1057.0 1007.1,1066.8 1007.6,1066.4 1008.1,1073.6 1008.7,1056.2 1009.2,1054.1 1009.7,1060.1 1010.2,1075.0 1010.7,1057.8 1011.2,1062.7 1011.8,1073.9 1012.3,1069.0 1012.8,1068.7 1013.3,1058.4 1013.8,1060.8 1014.3,1063.5 1014.8,1054.7 1015.4,1063.5 1015.9,1073.2 1016.4,1055.3 1016.9,1077.6 1017.4,1067.2 1017.9,1069.2 1018.4,1070.5 1019.0,1059.0 1019.5,1059.5 1020.0,1067.0 1020.5,1068.5 1021.0,1060.7 1021.5,1067.2 1022.0,1074.4 1022.6,1056.4 1023.1,1074.2 1023.6,1079.8 1024.1,1070.7 1024.6,1065.4 1025.1,1078.3 1025.7,1073.9 1026.2,1070.7 1026.7,1078.1 1027.2,1078.2 1027.7,1061.6 1028.2,1075.0 1028.7,1064.2 1029.3,1071.8 1029.8,1065.1 1030.3,1065.7 1030.8,1067.3 1031.3,1072.5 1031.8,1075.5 1032.3,1073.8 1032.9,1070.4 1033.4,1079.2 1033.9,1077.1 1034.4,1073.8 1034.9,1085.7 1035.4,1075.7 1035.9,1070.8 1036.5,1082.7 1037.0,1073.7 1037.5,1064.9 1038.0,1071.3 1038.5,1080.0 1039.0,1078.3 1039.6,1090.1 1040.1,1067.1 1040.6,1084.2 1041.1,1062.8 1041.6,1069.2 1042.1,1091.5 1042.6,1083.7 1043.2,1071.7 1043.7,1071.2 1044.2,1074.7 1044.7,1070.9 1045.2,1079.3 1045.7,1076.2 1046.2,1065.8 1046.8,1073.7 1047.3,1068.6 1047.8,1081.0 1048.3,1075.9 1048.8,1071.3 1049.3,1072.9 1049.8,1064.4 1050.4,1082.3 1050.9,1082.2 1051.4,1074.2 1051.9,1078.0 1052.4,1070.8 1052.9,1074.3 1053.4,1076.2 1054.0,1076.0 1054.5,1084.7 1055.0,1083.4 1055.5,1072.6 1056.0,1065.8 1056.5,1081.7 1057.1,1091.0 1057.6,1075.9 1058.1,1077.7 1058.6,1073.0 1059.1,1087.7 1059.6,1074.2 1060.1,1075.8 1060.7,1074.5 1061.2,1078.5 1061.7,1066.5 1062.2,1081.9 1062.7,1087.2 1063.2,1077.0 1063.7,1078.5 1064.3,1076.6 1064.8,1078.7 1065.3,1076.1 1065.8,1079.9 1066.3,1096.0 1066.8,1080.8 1067.3,1089.4 1067.9,1098.1 1068.4,1088.1 1068.9,1085.1 1069.4,1082.3 1069.9,1080.7 1070.4,1080.4 1071.0,1080.2 1071.5,1079.6 1072.0,1085.5 1072.5,1081.6 1073.0,1075.0 1073.5,1074.6 1074.0,1082.1 1074.6,1079.6 1075.1,1089.5 1075.6,1082.0 1076.1,1085.4 1076.6,1074.1 1077.1,1081.9 1077.6,1082.3 1078.2,1078.2 1078.7,1080.4 1079.2,1072.3 1079.7,1080.5 1080.2,1071.1 1080.7,1072.4 1081.2,1087.7 1081.8,1096.2 1082.3,1080.8 1082.8,1076.5 1083.3,1084.1 1083.8,1084.7 1084.3,1094.4 1084.9,1071.0 1085.4,1082.5 1085.9,1090.7 1086.4,1073.2 1086.9,1087.4 1087.4,1094.7 1087.9,1093.9 1088.5,1093.3 1089.0,1085.8 1089.5,1080.3 1090.0,1080.8 1090.5,1082.5 1091.0,1093.4 1091.5,1074.7 1092.1,1092.5 1092.6,1092.6 1093.1,1078.8 1093.6,1080.0 1094.1,1098.9 1094.6,1083.2 1095.1,1078.3 1095.7,1086.3 1096.2,1088.9 1096.7,1085.9 1097.2,1068.5 1097.7,1087.0 1098.2,1087.2 1098.8,1080.0 1099.3,1078.8 1099.8,1074.3 1100.3,1082.5 1100.8,1092.0 1101.3,1092.1 1101.8,1091.4 1102.4,1091.0 1102.9,1092.4 1103.4,1088.9 1103.9,1080.0 1104.4,1089.6 1104.9,1079.8 1105.4,1081.9 1106.0,1093.0 1106.5,1075.2 1107.0,1099.2 1107.5,1089.3 1108.0,1080.5 1108.5,1086.9 1109.0,1084.8 1109.6,1090.8 1110.1,1098.4 1110.6,1091.5 1111.1,1087.7 1111.6,1088.9 1112.1,1097.4 1112.7,1086.8 1113.2,1090.0 1113.7,1096.7 1114.2,1082.7 1114.7,1091.7 1115.2,1097.3 1115.7,1100.0 1116.3,1087.1 1116.8,1082.6 1117.3,1087.1 1117.8,1084.5 1118.3,1095.5 1118.8,1087.0 1119.3,1084.8 1119.9,1090.8 1120.4,1085.7 1120.9,1086.4 1121.4,1088.6 1121.9,1088.4 1122.4,1086.4 1122.9,1087.3 1123.5,1084.9 1124.0,1071.2 1124.5,1088.6 1125.0,1069.3 1125.5,1097.1 1126.0,1076.7 1126.6,1088.9 1127.1,1084.8 1127.6,1086.6 1128.1,1086.9 1128.6,1087.2 1129.1,1086.2 1129.6,1089.6 1130.2,1085.5 1130.7,1090.9 1131.2,1083.4 1131.7,1089.5 1132.2,1085.2 1132.7,1090.0 1133.2,1087.0 1133.8,1086.2 1134.3,1089.2 1134.8,1092.4 1135.3,1086.9 1135.8,1101.2 1136.3,1096.5 1136.8,1079.7 1137.4,1081.8 1137.9,1092.9 1138.4,1090.3 1138.9,1085.1 1139.4,1081.0 1139.9,1099.3 1140.5,1096.9 1141.0,1089.2 1141.5,1085.9 1142.0,1097.2 1142.5,1098.7 1143.0,1104.1 1143.5,1088.6 1144.1,1091.5 1144.6,1087.9 1145.1,1095.9 1145.6,1080.1 1146.1,1093.7 1146.6,1107.0 1147.1,1091.6 1147.7,1089.1 1148.2,1090.0 1148.7,1084.6 1149.2,1085.1 1149.7,1092.2 1150.2,1096.5 1150.7,1089.3 1151.3,1090.1 1151.8,1093.9 1152.3,1087.3 1152.8,1077.5 1153.3,1092.7 1153.8,1092.4 1154.4,1087.5 1154.9,1088.1 1155.4,1097.1 1155.9,1098.0 1156.4,1099.9 1156.9,1081.2 1157.4,1091.4 1158.0,1103.1 1158.5,1095.7 1159.0,1083.5 1159.5,1086.7 1160.0,1097.0 1160.5,1097.3 1161.0,1089.2 1161.6,1090.3 1162.1,1081.3 1162.6,1103.7 1163.1,1092.0 1163.6,1095.8 1164.1,1094.3 1164.6,1085.7 1165.2,1106.7 1165.7,1094.2 1166.2,1097.1 1166.7,1097.2 1167.2,1097.3 1167.7,1094.4 1168.3,1093.6 1168.8,1089.5 1169.3,1095.5 1169.8,1087.0 1170.3,1092.3 1170.8,1082.9 1171.3,1086.7 1171.9,1091.4 1172.4,1089.5 1172.9,1078.1 1173.4,1083.3 1173.9,1090.1 1174.4,1086.6 1174.9,1092.1 1175.5,1087.3 1176.0,1086.1 1176.5,1081.2 1177.0,1081.4 1177.5,1085.2 1178.0,1076.4 1178.5,1082.2 1179.1,1100.9 1179.6,1077.0 1180.1,1085.4 1180.6,1078.8 1181.1,1089.5 1181.6,1077.0 1182.1,1075.8 1182.7,1079.2 1183.2,1078.3 1183.7,1087.1 1184.2,1081.5 1184.7,1079.5 1185.2,1076.6 1185.8,1069.8 1186.3,1086.6 1186.8,1080.1 1187.3,1079.6 1187.8,1086.6 1188.3,1085.9 1188.8,1087.4 1189.4,1078.4 1189.9,1074.1 1190.4,1066.2 1190.9,1077.5 1191.4,1075.0 1191.9,1075.8 1192.4,1070.3 1193.0,1064.1 1193.5,1062.7 1194.0,1060.9 1194.5,1071.6 1195.0,1068.2 1195.5,1065.1 1196.0,1057.9 1196.6,1058.1 1197.1,1066.0 1197.6,1055.2 1198.1,1069.5 1198.6,1062.9 1199.1,1066.2 1199.7,1058.8 1200.2,1059.2 1200.7,1062.1 1201.2,1056.9 1201.7,1059.0 1202.2,1057.3 1202.7,1061.9 1203.3,1052.5 1203.8,1067.0 1204.3,1051.1 1204.8,1029.7 1205.3,1049.4 1205.8,1043.9 1206.3,1052.8 1206.9,1059.2 1207.4,1059.2 1207.9,1050.8 1208.4,1058.7 1208.9,1037.4 1209.4,1041.4 1209.9,1042.0 1210.5,1042.6 1211.0,1028.8 1211.5,1028.6 1212.0,1043.2 1212.5,1038.8 1213.0,1046.4 1213.6,1026.4 1214.1,1038.3 1214.6,1027.1 1215.1,1035.5 1215.6,1035.3 1216.1,1022.7 1216.6,1037.7 1217.2,1031.9 1217.7,1030.9 1218.2,1029.9 1218.7,1023.8 1219.2,1032.6 1219.7,1014.6 1220.2,1024.6 1220.8,1008.9 1221.3,1015.2 1221.8,1008.0 1222.3,1019.0 1222.8,995.7 1223.3,994.4 1223.8,998.5 1224.4,1000.7 1224.9,1007.6 1225.4,1005.6 1225.9,997.3 1226.4,997.1 1226.9,994.5 1227.5,982.6 1228.0,986.0 1228.5,970.2 1229.0,961.3 1229.5,956.7 1230.0,961.4 1230.5,949.8 1231.1,946.0 1231.6,948.5 1232.1,933.8 1232.6,940.6 1233.1,948.0 1233.6,922.9 1234.1,924.6 1234.7,904.3 1235.2,922.5 1235.7,890.3 1236.2,881.6 1236.7,880.3 1237.2,872.5 1237.7,884.3 1238.3,841.8 1238.8,873.7 1239.3,857.4 1239.8,861.5 1240.3,837.7 1240.8,831.0 1241.4,837.8 1241.9,821.8 1242.4,824.8 1242.9,799.1 1243.4,806.4 1243.9,791.4 1244.4,777.8 1245.0,770.7 1245.5,760.3 1246.0,758.4 1246.5,741.4 1247.0,728.3 1247.5,706.8 1248.0,708.6 1248.6,702.9 1249.1,700.0 1249.6,708.5 1250.1,703.5 1250.6,709.5 1251.1,737.8 1251.6,745.6 1252.2,728.7 1252.7,751.7 1253.2,747.7 1253.7,767.3 1254.2,753.5 1254.7,771.9 1255.3,787.2 1255.8,802.7 1256.3,782.3 1256.8,777.0 1257.3,808.7 1257.8,822.0 1258.3,803.3 1258.9,829.1 1259.4,853.8 1259.9,850.6 1260.4,857.5 1260.9,864.9 1261.4,843.6 1261.9,847.1 1262.5,846.6 1263.0,895.6 1263.5,843.0 1264.0,896.8 1264.5,878.1 1265.0,876.8 1265.5,886.2 1266.1,893.1 1266.6,920.3 1267.1,917.2 1267.6,921.4 1268.1,907.4 1268.6,916.5 1269.2,940.3 1269.7,939.0 1270.2,950.5 1270.7,934.9 1271.2,943.0 1271.7,964.1 1272.2,958.6 1272.8,965.0 1273.3,967.0 1273.8,975.7 1274.3,973.6 1274.8,980.4 1275.3,989.2 1275.8,998.8 1276.4,972.3 1276.9,1006.1 1277.4,978.3 1277.9,1011.3 1278.4,999.3 1278.9,994.3 1279.4,1007.2 1280.0,988.2 1280.5,1011.0 1281.0,1009.2 1281.5,1020.7 1282.0,1017.2 1282.5,1020.2 1283.1,1018.5 1283.6,1036.1 1284.1,1036.1 1284.6,1025.6 1285.1,1038.1 1285.6,1034.9 1286.1,1044.4 1286.7,1050.7 1287.2,1045.7 1287.7,1037.0 1288.2,1041.3 1288.7,1044.1 1289.2,1051.9 1289.7,1035.8 1290.3,1057.3 1290.8,1035.2 1291.3,1045.0 1291.8,1059.9 1292.3,1065.9 1292.8,1047.8 1293.3,1065.7 1293.9,1056.6 1294.4,1049.7 1294.9,1058.3 1295.4,1056.7 1295.9,1053.3 1296.4,1066.0 1297.0,1053.3 1297.5,1067.5 1298.0,1056.9 1298.5,1057.7 1299.0,1066.0 1299.5,1058.4 1300.0,1064.7 1300.6,1058.3 1301.1,1070.8 1301.6,1070.5 1302.1,1066.8 1302.6,1068.8 1303.1,1078.0 1303.6,1065.3 1304.2,1078.9 1304.7,1077.2 1305.2,1083.3 1305.7,1079.7 1306.2,1068.3 1306.7,1082.0 1307.2,1075.9 1307.8,1079.5 1308.3,1077.9 1308.8,1068.8 1309.3,1073.0 1309.8,1085.5 1310.3,1085.0 1310.8,1092.7 1311.4,1080.8 1311.9,1081.0 1312.4,1076.1 1312.9,1095.3 1313.4,1084.8 1313.9,1093.6 1314.5,1079.8 1315.0,1098.4 1315.5,1091.6 1316.0,1091.1 1316.5,1091.6 1317.0,1088.7 1317.5,1087.6 1318.1,1085.9 1318.6,1100.4 1319.1,1097.4 1319.6,1096.7 1320.1,1101.0 1320.6,1099.6 1321.1,1098.4 1321.7,1092.5 1322.2,1105.1 1322.7,1103.7 1323.2,1099.0 1323.7,1088.4 1324.2,1099.2 1324.7,1100.9 1325.3,1091.3 1325.8,1097.1 1326.3,1101.6 1326.8,1091.8 1327.3,1101.1 1327.8,1104.3 1328.4,1102.0 1328.9,1089.9 1329.4,1105.5 1329.9,1092.7 1330.4,1095.3 1330.9,1104.8 1331.4,1101.3 1332.0,1099.2 1332.5,1095.8 1333.0,1098.9 1333.5,1094.4 1334.0,1100.4 1334.5,1102.0 1335.0,1098.8 1335.6,1101.6 1336.1,1098.8 1336.6,1099.6 1337.1,1103.5 1337.6,1097.0 1338.1,1103.7 1338.6,1102.6 1339.2,1115.2 1339.7,1101.9 1340.2,1104.0 1340.7,1097.5 1341.2,1116.0 1341.7,1103.4 1342.3,1098.4 1342.8,1104.5 1343.3,1104.6 1343.8,1103.4 1344.3,1099.6 1344.8,1103.4 1345.3,1111.7 1345.9,1099.5 1346.4,1111.7 1346.9,1104.6 1347.4,1099.3 1347.9,1107.7 1348.4,1112.5 1348.9,1103.8 1349.5,1103.2 1350.0,1112.1 1350.5,1113.1 1351.0,1104.8 1351.5,1105.1 1352.0,1094.3 1352.5,1106.5 1353.1,1095.0 1353.6,1097.3 1354.1,1102.5 1354.6,1103.3 1355.1,1104.0 1355.6,1101.2 1356.2,1108.1 1356.7,1106.6 1357.2,1104.2 1357.7,1102.8 1358.2,1105.3 1358.7,1108.1 1359.2,1105.2 1359.8,1108.0 1360.3,1109.3 1360.8,1115.2 1361.3,1107.9 1361.8,1099.6 1362.3,1103.6 1362.8,1112.4 1363.4,1094.9 1363.9,1095.3 1364.4,1104.2 1364.9,1112.0 1365.4,1111.6 1365.9,1114.3 1366.4,1102.3 1367.0,1110.3 1367.5,1108.9 1368.0,1112.9 1368.5,1109.1 1369.0,1111.8 1369.5,1113.7 1370.1,1112.1 1370.6,1100.7 1371.1,1105.3 1371.6,1103.3 1372.1,1105.7 1372.6,1105.7 1373.1,1113.4 1373.7,1109.0 1374.2,1100.5 1374.7,1110.5 1375.2,1110.9"/>
<polyline fill="none" stroke="#0000ff" stroke-width="3" stroke-linejoin="round" stroke-linecap="butt" points="345.6,623.9 346.1,652.0 346.6,651.5 347.1,613.7 347.7,616.0 348.2,613.0 348.7,661.1 349.2,637.7 349.7,636.2 350.2,644.5 350.7,624.5 351.3,635.2 351.8,622.0 352.3,646.0 352.8,625.5 353.3,643.1 353.8,652.6 354.4,637.1 354.9,649.7 355.4,622.8 355.9,623.2 356.4,642.1 356.9,636.5 357.4,620.8 358.0,633.2 358.5,655.7 359.0,630.6 359.5,640.4 360.0,635.1 360.5,643.0 361.0,645.3 361.6,648.7 362.1,647.9 362.6,652.2 363.1,647.1 363.6,644.3 364.1,635.1 364.6,601.5 365.2,637.2 365.7,632.1 366.2,633.6 366.7,620.2 367.2,653.3 367.7,619.0 368.3,649.4 368.8,641.1 369.3,650.1 369.8,656.2 370.3,671.5 370.8,663.4 371.3,659.5 371.9,664.9 372.4,646.9 372.9,647.8 373.4,640.6 373.9,651.2 374.4,662.2 374.9,647.7 375.5,648.3 376.0,640.3 376.5,680.4 377.0,649.7 377.5,657.3 378.0,647.8 378.5,656.9 379.1,627.6 379.6,653.5 380.1,644.3 380.6,669.9 381.1,663.5 381.6,650.4 382.2,645.3 382.7,643.2 383.2,663.4 383.7,648.0 384.2,679.8 384.7,645.2 385.2,651.2 385.8,647.8 386.3,643.1 386.8,667.9 387.3,653.6 387.8,679.8 388.3,666.6 388.8,643.3 389.4,657.6 389.9,668.9 390.4,686.3 390.9,665.2 391.4,668.8 391.9,654.7 392.4,690.6 393.0,648.4 393.5,680.7 394.0,678.5 394.5,684.0 395.0,689.3 395.5,695.9 396.1,684.6 396.6,664.3 397.1,706.0 397.6,680.3 398.1,700.1 398.6,686.5 399.1,700.2 399.7,691.5 400.2,687.6 400.7,704.2 401.2,663.9 401.7,690.6 402.2,695.7 402.7,700.4 403.3,689.7 403.8,674.1 404.3,701.8 404.8,684.2 405.3,706.5 405.8,704.0 406.3,699.9 406.9,719.0 407.4,715.4 407.9,689.7 408.4,681.2 408.9,719.7 409.4,731.1 409.9,696.0 410.5,708.9 411.0,694.9 411.5,699.1 412.0,742.5 412.5,713.7 413.0,710.4 413.6,712.0 414.1,696.4 414.6,716.2 415.1,734.2 415.6,730.4 416.1,708.0 416.6,704.2 417.2,722.8 417.7,715.9 418.2,714.6 418.7,707.5 419.2,726.1 419.7,717.7 420.2,716.9 420.8,718.0 421.3,722.6 421.8,706.7 422.3,706.4 422.8,689.4 423.3,722.8 423.8,741.4 424.4,731.5 424.9,719.6 425.4,707.0 425.9,716.0 426.4,713.0 426.9,724.6 427.5,717.7 428.0,725.9 428.5,716.3 429.0,705.7 429.5,740.9 430.0,706.1 430.5,707.4 431.1,713.3 431.6,715.5 432.1,731.0 432.6,726.6 433.1,717.0 433.6,728.1 434.1,748.0 434.7,727.1 435.2,725.5 435.7,731.2 436.2,712.9 436.7,755.2 437.2,740.7 437.7,716.9 438.3,729.9 438.8,699.7 439.3,727.4 439.8,723.8 440.3,728.3 440.8,716.6 441.4,736.5 441.9,713.4 442.4,737.9 442.9,719.6 443.4,703.3 443.9,718.9 444.4,745.0 445.0,706.1 445.5,712.6 446.0,728.5 446.5,713.6 447.0,719.9 447.5,715.9 448.0,732.4 448.6,722.4 449.1,739.0 449.6,706.9 450.1,741.8 450.6,734.4 451.1,727.7 451.6,730.2 452.2,720.2 452.7,715.0 453.2,745.6 453.7,724.7 454.2,713.0 454.7,731.4 455.3,729.1 455.8,735.9 456.3,721.5 456.8,716.9 457.3,714.9 457.8,715.6 458.3,735.9 458.9,734.0 459.4,738.8 459.9,734.9 460.4,724.3 460.9,757.2 461.4,729.5 461.9,712.6 462.5,742.1 463.0,729.3 463.5,731.0 464.0,732.3 464.5,739.3 465.0,723.0 465.5,731.9 466.1,737.4 466.6,752.3 467.1,728.9 467.6,732.3 468.1,752.3 468.6,746.3 469.2,741.9 469.7,732.2 470.2,752.1 470.7,740.5 471.2,742.1 471.7,742.4 472.2,742.8 472.8,751.2 473.3,739.0 473.8,717.1 474.3,738.9 474.8,742.4 475.3,744.4 475.8,735.7 476.4,728.9 476.9,749.6 477.4,752.2 477.9,726.0 478.4,741.1 478.9,736.1 479.4,748.0 480.0,740.8 480.5,728.7 481.0,757.8 481.5,750.1 482.0,740.9 482.5,734.6 483.1,733.0 483.6,743.3 484.1,725.4 484.6,764.9 485.1,738.7 485.6,745.8 486.1,742.1 486.7,749.0 487.2,756.7 487.7,718.2 488.2,754.6 488.7,745.7 489.2,758.9 489.7,751.6 490.3,730.5 490.8,734.1 491.3,760.5 491.8,756.5 492.3,744.7 492.8,754.9 493.3,741.2 493.9,758.6 494.4,745.1 494.9,739.8 495.4,750.1 495.9,745.8 496.4,754.0 497.0,744.0 497.5,747.9 498.0,776.1 498.5,759.5 499.0,746.3 499.5,751.6 500.0,737.7 500.6,766.1 501.1,748.6 501.6,761.9 502.1,761.4 502.6,760.2 503.1,760.4 503.6,762.2 504.2,773.4 504.7,756.8 505.2,757.7 505.7,731.7 506.2,746.6 506.7,740.4 507.2,756.8 507.8,761.5 508.3,760.1 508.8,739.9 509.3,767.8 509.8,761.5 510.3,755.1 510.9,743.4 511.4,757.2 511.9,761.2 512.4,768.2 512.9,748.4 513.4,753.1 513.9,749.2 514.5,761.3 515.0,756.6 515.5,757.7 516.0,752.1 516.5,768.5 517.0,769.6 517.5,767.8 518.1,743.2 518.6,764.2 519.1,767.9 519.6,761.6 520.1,766.2 520.6,773.8 521.1,769.3 521.7,773.8 522.2,781.0 522.7,774.6 523.2,767.8 523.7,768.1 524.2,767.2 524.8,772.9 525.3,767.1 525.8,771.4 526.3,763.0 526.8,762.7 527.3,771.8 527.8,762.7 528.4,758.7 528.9,764.9 529.4,770.4 529.9,761.3 530.4,783.8 530.9,766.5 531.4,757.4 532.0,795.4 532.5,764.3 533.0,787.0 533.5,775.2 534.0,773.2 534.5,761.6 535.0,770.6 535.6,761.2 536.1,777.1 536.6,768.4 537.1,770.3 537.6,793.0 538.1,755.4 538.6,758.2 539.2,766.4 539.7,777.3 540.2,788.9 540.7,767.6 541.2,781.5 541.7,765.5 542.3,772.6 542.8,754.4 543.3,759.1 543.8,782.9 544.3,784.9 544.8,784.0 545.3,778.9 545.9,747.2 546.4,767.7 546.9,760.4 547.4,775.5 547.9,773.3 548.4,785.5 548.9,792.2 549.5,787.8 550.0,780.5 550.5,793.6 551.0,773.8 551.5,787.6 552.0,771.4 552.5,781.3 553.1,788.4 553.6,782.5 554.1,771.3 554.6,780.8 555.1,788.9 555.6,788.7 556.2,805.8 556.7,786.9 557.2,784.5 557.7,764.4 558.2,776.7 558.7,769.0 559.2,797.4 559.8,779.3 560.3,768.8 560.8,782.6 561.3,782.0 561.8,788.4 562.3,786.5 562.8,788.2 563.4,782.0 563.9,785.9 564.4,765.5 564.9,767.2 565.4,780.5 565.9,780.3 566.4,769.2 567.0,795.1 567.5,784.8 568.0,779.8 568.5,787.3 569.0,792.1 569.5,767.8 570.1,792.5 570.6,787.0 571.1,791.7 571.6,792.0 572.1,774.7 572.6,797.5 573.1,795.0 573.7,799.8 574.2,776.5 574.7,791.7 575.2,778.4 575.7,775.7 576.2,799.2 576.7,780.1 577.3,791.4 577.8,785.3 578.3,796.3 578.8,782.8 579.3,791.3 579.8,795.4 580.3,759.2 580.9,785.7 581.4,775.2 581.9,803.0 582.4,795.3 582.9,788.6 583.4,796.3 584.0,791.5 584.5,778.7 585.0,803.1 585.5,805.9 586.0,798.2 586.5,798.5 587.0,788.7 587.6,784.4 588.1,797.3 588.6,782.3 589.1,788.1 589.6,785.7 590.1,779.3 590.6,794.4 591.2,788.1 591.7,787.6 592.2,805.2 592.7,783.5 593.2,778.8 593.7,781.9 594.2,793.0 594.8,801.8 595.3,790.4 595.8,778.8 596.3,772.0 596.8,785.3 597.3,803.0 597.9,792.5 598.4,780.5 598.9,791.7 599.4,782.4 599.9,786.7 600.4,796.9 600.9,797.8 601.5,793.0 602.0,781.6 602.5,794.6 603.0,788.3 603.5,782.0 604.0,779.4 604.5,786.0 605.1,790.2 605.6,788.4 606.1,759.7 606.6,785.4 607.1,807.1 607.6,776.7 608.1,799.2 608.7,796.7 609.2,791.0 609.7,804.5 610.2,781.4 610.7,789.0 611.2,788.4 611.8,796.2 612.3,797.9 612.8,818.6 613.3,787.6 613.8,798.0 614.3,805.5 614.8,790.4 615.4,790.9 615.9,804.8 616.4,779.1 616.9,799.2 617.4,783.0 617.9,789.4 618.4,788.5 619.0,805.4 619.5,780.5 620.0,770.0 620.5,785.9 621.0,779.8 621.5,792.4 622.0,798.0 622.6,795.6 623.1,778.0 623.6,775.9 624.1,795.7 624.6,779.6 625.1,769.0 625.7,805.9 626.2,787.5 626.7,793.1 627.2,793.9 627.7,792.0 628.2,791.6 628.7,794.1 629.3,784.4 629.8,792.0 630.3,784.3 630.8,798.1 631.3,791.0 631.8,790.4 632.3,794.2 632.9,801.4 633.4,799.8 633.9,795.8 634.4,787.8 634.9,804.1 635.4,782.7 635.9,784.0 636.5,806.4 637.0,781.8 637.5,795.5 638.0,793.5 638.5,789.0 639.0,785.7 639.6,786.4 640.1,781.2 640.6,778.2 641.1,772.5 641.6,789.6 642.1,801.8 642.6,774.8 643.2,794.1 643.7,792.3 644.2,800.3 644.7,798.4 645.2,796.6 645.7,782.6 646.2,791.4 646.8,787.6 647.3,779.5 647.8,794.9 648.3,782.4 648.8,799.5 649.3,794.7 649.8,777.2 650.4,801.7 650.9,791.6 651.4,790.5 651.9,765.1 652.4,782.8 652.9,781.3 653.5,781.3 654.0,777.9 654.5,776.1 655.0,801.0 655.5,782.2 656.0,766.7 656.5,779.9 657.1,780.2 657.6,784.4 658.1,786.2 658.6,788.7 659.1,781.4 659.6,787.9 660.1,816.5 660.7,779.0 661.2,770.9 661.7,796.6 662.2,783.1 662.7,778.9 663.2,774.5 663.7,798.5 664.3,776.8 664.8,805.8 665.3,803.0 665.8,796.9 666.3,783.1 666.8,815.4 667.3,774.6 667.9,787.0 668.4,776.1 668.9,789.7 669.4,789.8 669.9,794.9 670.4,785.0 671.0,793.5 671.5,783.9 672.0,789.8 672.5,779.2 673.0,794.8 673.5,793.4 674.0,782.0 674.6,787.4 675.1,778.0 675.6,803.1 676.1,809.0 676.6,790.7 677.1,803.2 677.6,793.0 678.2,788.1 678.7,777.8 679.2,793.0 679.7,776.8 680.2,786.7 680.7,792.8 681.2,780.7 681.8,776.6 682.3,780.6 682.8,791.9 683.3,785.6 683.8,794.8 684.3,804.7 684.9,779.9 685.4,797.2 685.9,790.2 686.4,782.8 686.9,782.0 687.4,776.8 687.9,787.3 688.5,771.7 689.0,766.0 689.5,778.4 690.0,787.6 690.5,782.9 691.0,779.7 691.5,783.5 692.1,795.4 692.6,777.3 693.1,788.5 693.6,787.9 694.1,775.7 694.6,795.8 695.1,782.2 695.7,808.6 696.2,781.9 696.7,786.9 697.2,808.9 697.7,798.0 698.2,786.9 698.8,765.7 699.3,800.5 699.8,775.9 700.3,793.4 700.8,788.5 701.3,790.4 701.8,786.7 702.4,784.1 702.9,784.6 703.4,788.0 703.9,779.8 704.4,784.2 704.9,798.0 705.4,774.6 706.0,799.7 706.5,796.2 707.0,817.0 707.5,797.0 708.0,791.0 708.5,795.0 709.0,771.6 709.6,796.1 710.1,782.2 710.6,804.9 711.1,787.3 711.6,792.2 712.1,780.2 712.7,786.0 713.2,786.9 713.7,795.5 714.2,799.8 714.7,785.1 715.2,774.1 715.7,774.6 716.3,798.7 716.8,795.6 717.3,791.3 717.8,789.0 718.3,789.9 718.8,787.1 719.3,798.9 719.9,788.4 720.4,779.3 720.9,782.0 721.4,770.4 721.9,794.8 722.4,780.4 722.9,784.1 723.5,776.2 724.0,780.7 724.5,792.9 725.0,786.7 725.5,787.8 726.0,796.9 726.6,789.0 727.1,778.4 727.6,791.1 728.1,773.4 728.6,792.9 729.1,785.5 729.6,788.4 730.2,785.3 730.7,779.4 731.2,768.8 731.7,798.0 732.2,775.7 732.7,768.8 733.2,783.9 733.8,782.9 734.3,776.1 734.8,774.5 735.3,786.2 735.8,795.1 736.3,778.7 736.8,778.2 737.4,787.7 737.9,772.8 738.4,764.4 738.9,764.9 739.4,772.7 739.9,773.6 740.5,756.6 741.0,777.2 741.5,776.9 742.0,764.0 742.5,774.1 743.0,800.2 743.5,767.0 744.1,755.5 744.6,760.1 745.1,760.1 745.6,760.0 746.1,761.2 746.6,765.6 747.1,756.3 747.7,770.6 748.2,766.3 748.7,769.6 749.2,748.3 749.7,779.7 750.2,788.3 750.7,768.1 751.3,765.6 751.8,765.8 752.3,782.8 752.8,748.3 753.3,782.0 753.8,756.0 754.4,785.1 754.9,775.5 755.4,768.2 755.9,756.8 756.4,745.0 756.9,747.4 757.4,760.1 758.0,779.1 758.5,759.1 759.0,745.4 759.5,763.2 760.0,758.8 760.5,765.8 761.0,757.1 761.6,751.9 762.1,758.3 762.6,756.2 763.1,777.5 763.6,766.7 764.1,770.5 764.6,756.6 765.2,761.1 765.7,752.0 766.2,767.2 766.7,752.5 767.2,759.9 767.7,752.9 768.3,764.3 768.8,770.6 769.3,756.2 769.8,767.5 770.3,760.7 770.8,762.3 771.3,764.0 771.9,755.9 772.4,753.4 772.9,736.3 773.4,743.6 773.9,753.4 774.4,774.6 774.9,757.1 775.5,743.3 776.0,756.5 776.5,766.8 777.0,743.0 777.5,757.9 778.0,757.1 778.5,741.9 779.1,744.6 779.6,735.0 780.1,755.9 780.6,761.2 781.1,745.1 781.6,757.3 782.2,749.8 782.7,749.0 783.2,744.4 783.7,745.9 784.2,745.0 784.7,752.9 785.2,754.1 785.8,750.5 786.3,759.8 786.8,739.6 787.3,749.3 787.8,741.4 788.3,753.9 788.8,756.9 789.4,731.3 789.9,755.0 790.4,759.5 790.9,749.8 791.4,725.1 791.9,769.7 792.4,739.6 793.0,745.4 793.5,765.1 794.0,740.9 794.5,743.4 795.0,759.8 795.5,749.4 796.0,750.9 796.6,743.2 797.1,743.4 797.6,750.0 798.1,726.4 798.6,730.2 799.1,737.4 799.7,733.3 800.2,756.1 800.7,739.8 801.2,741.5 801.7,730.0 802.2,749.7 802.7,739.0 803.3,736.0 803.8,736.8 804.3,734.6 804.8,730.6 805.3,741.2 805.8,749.5 806.3,756.6 806.9,722.0 807.4,738.4 807.9,767.4 808.4,745.2 808.9,732.5 809.4,745.3 809.9,738.6 810.5,755.3 811.0,755.0 811.5,747.2 812.0,759.3 812.5,758.7 813.0,763.8 813.6,761.4 814.1,758.2 814.6,752.6 815.1,782.8 815.6,765.0 816.1,759.7 816.6,761.4 817.2,791.3 817.7,779.9 818.2,757.6 818.7,783.2 819.2,772.7 819.7,776.0 820.2,771.3 820.8,785.7 821.3,800.2 821.8,766.4 822.3,775.6 822.8,775.7 823.3,777.7 823.8,772.1 824.4,777.8 824.9,783.0 825.4,800.1 825.9,756.4 826.4,787.5 826.9,798.0 827.5,784.1 828.0,805.5 828.5,802.5 829.0,796.0 829.5,809.7 830.0,800.4 830.5,805.9 831.1,781.3 831.6,800.0 832.1,789.9 832.6,782.4 833.1,794.6 833.6,801.6 834.1,792.2 834.7,803.1 835.2,810.4 835.7,794.9 836.2,796.1 836.7,800.7 837.2,800.5 837.7,810.5 838.3,776.3 838.8,803.6 839.3,793.2 839.8,789.1 840.3,817.8 840.8,796.4 841.4,790.7 841.9,811.7 842.4,797.1 842.9,787.8 843.4,795.8 843.9,792.3 844.4,775.7 845.0,780.2 845.5,781.7 846.0,782.3 846.5,790.4 847.0,778.8 847.5,776.8 848.0,789.6 848.6,787.4 849.1,770.4 849.6,779.3 850.1,787.2 850.6,802.8 851.1,784.7 851.6,787.1 852.2,783.6 852.7,783.6 853.2,765.5 853.7,797.3 854.2,786.8 854.7,792.1 855.3,769.2 855.8,774.5 856.3,784.5 856.8,775.9 857.3,775.4 857.8,800.5 858.3,772.9 858.9,779.9 859.4,777.9 859.9,764.8 860.4,777.3 860.9,796.7 861.4,772.9 861.9,788.3 862.5,776.9 863.0,779.5 863.5,772.0 864.0,779.2 864.5,772.4 865.0,790.2 865.5,763.4 866.1,768.4 866.6,750.4 867.1,781.3 867.6,771.5 868.1,768.0 868.6,752.1 869.2,760.5 869.7,763.8 870.2,744.2 870.7,767.8 871.2,742.9 871.7,735.5 872.2,755.1 872.8,736.8 873.3,732.4 873.8,737.2 874.3,734.1 874.8,711.8 875.3,721.2 875.8,722.4 876.4,720.2 876.9,732.8 877.4,705.2 877.9,701.3 878.4,691.4 878.9,714.8 879.4,690.6 880.0,694.4 880.5,681.8 881.0,677.9 881.5,691.4 882.0,697.9 882.5,667.2 883.1,685.0 883.6,676.3 884.1,659.8 884.6,658.4 885.1,656.8 885.6,641.9 886.1,619.4 886.7,649.3 887.2,644.3 887.7,610.5 888.2,618.0 888.7,611.8 889.2,593.6 889.7,562.7 890.3,567.8 890.8,550.2 891.3,543.8 891.8,515.8 892.3,533.7 892.8,488.7 893.3,479.4 893.9,457.9 894.4,442.4 894.9,454.7 895.4,431.4 895.9,444.7 896.4,363.3 897.0,401.9 897.5,337.7 898.0,338.7 898.5,307.6 899.0,325.1 899.5,300.9 900.0,288.4 900.6,270.9 901.1,276.2 901.6,272.0 902.1,233.3 902.6,244.0 903.1,216.1 903.6,190.0 904.2,166.2 904.7,122.0 905.2,149.4 905.7,114.6 906.2,119.9 906.7,74.7 907.2,78.6 907.8,77.3 908.3,45.5 908.8,39.7 909.3,39.2 909.8,68.6 910.3,40.3 910.9,41.1 911.4,45.5 911.9,36.9 912.4,36.4 912.9,33.4 913.4,36.3 913.9,44.8 914.5,47.9 915.0,38.2 915.5,38.5 916.0,80.1 916.5,67.2 917.0,42.2 917.5,55.0 918.1,85.4 918.6,117.4 919.1,131.7 919.6,124.2 920.1,146.2 920.6,178.2 921.1,217.1 921.7,226.8 922.2,254.8 922.7,256.0 923.2,288.6 923.7,292.0 924.2,283.0 924.7,309.4 925.3,306.0 925.8,351.7 926.3,335.2 926.8,346.9 927.3,370.6 927.8,383.0 928.4,416.9 928.9,446.8 929.4,426.5 929.9,450.5 930.4,469.6 930.9,446.8 931.4,508.2 932.0,489.8 932.5,494.6 933.0,521.7 933.5,543.0 934.0,555.3 934.5,572.8 935.0,565.8 935.6,592.6 936.1,598.2 936.6,585.3 937.1,613.5 937.6,605.6 938.1,630.8 938.6,600.6 939.2,642.0 939.7,646.1 940.2,652.2 940.7,666.7 941.2,666.5 941.7,693.8 942.3,674.5 942.8,689.3 943.3,690.2 943.8,704.2 944.3,712.6 944.8,710.3 945.3,735.2 945.9,714.8 946.4,719.9 946.9,749.0 947.4,736.7 947.9,751.6 948.4,750.2 948.9,770.2 949.5,765.6 950.0,754.0 950.5,748.9 951.0,768.4 951.5,769.4 952.0,773.0 952.5,756.2 953.1,804.2 953.6,797.6 954.1,792.2 954.6,790.4 955.1,790.4 955.6,793.5 956.2,780.6 956.7,770.7 957.2,798.5 957.7,803.3 958.2,799.3 958.7,809.9 959.2,808.1 959.8,801.3 960.3,793.0 960.8,797.1 961.3,804.0 961.8,811.8 962.3,816.4 962.8,810.8 963.4,829.6 963.9,836.0 964.4,821.4 964.9,825.1 965.4,816.1 965.9,839.3 966.4,844.6 967.0,832.0 967.5,820.1 968.0,836.3 968.5,836.4 969.0,840.5 969.5,840.6 970.1,834.0 970.6,838.4 971.1,839.0 971.6,838.0 972.1,844.6 972.6,853.0 973.1,839.4 973.7,850.4 974.2,853.8 974.7,849.3 975.2,849.3 975.7,862.4 976.2,857.7 976.7,849.1 977.3,857.3 977.8,859.8 978.3,856.2 978.8,864.1 979.3,862.0 979.8,861.7 980.3,853.7 980.9,871.6 981.4,857.2 981.9,856.4 982.4,869.5 982.9,861.6 983.4,851.2 984.0,867.4 984.5,855.8 985.0,856.5 985.5,863.7 986.0,864.0 986.5,867.3 987.0,859.1 987.6,859.7 988.1,865.5 988.6,870.1 989.1,864.6 989.6,874.6 990.1,862.6 990.6,871.2 991.2,868.7 991.7,869.3 992.2,873.0 992.7,876.4 993.2,873.0 993.7,864.8 994.2,863.2 994.8,857.5 995.3,870.9 995.8,862.9 996.3,865.1 996.8,882.0 997.3,868.5 997.9,862.6 998.4,876.3 998.9,875.5 999.4,872.7 999.9,869.0 1000.4,871.9 1000.9,872.0 1001.5,875.3 1002.0,873.7 1002.5,874.2 1003.0,882.7 1003.5,877.1 1004.0,874.1 1004.5,877.0 1005.1,876.1 1005.6,865.0 1006.1,878.1 1006.6,887.5 1007.1,878.2 1007.6,872.9 1008.1,879.4 1008.7,878.9 1009.2,888.3 1009.7,879.4 1010.2,878.9 1010.7,887.9 1011.2,877.8 1011.8,877.3 1012.3,880.5 1012.8,888.3 1013.3,882.2 1013.8,884.5 1014.3,884.1 1014.8,882.4 1015.4,884.4 1015.9,890.8 1016.4,888.8 1016.9,877.8 1017.4,890.3 1017.9,893.2 1018.4,883.1 1019.0,890.2 1019.5,872.4 1020.0,888.1 1020.5,883.0 1021.0,887.3 1021.5,892.3 1022.0,883.7 1022.6,885.1 1023.1,891.1 1023.6,892.8 1024.1,896.1 1024.6,904.0 1025.1,878.2 1025.7,899.6 1026.2,897.7 1026.7,890.4 1027.2,885.9 1027.7,896.6 1028.2,897.6 1028.7,889.1 1029.3,910.2 1029.8,884.9 1030.3,883.6 1030.8,879.5 1031.3,888.0 1031.8,892.2 1032.3,904.2 1032.9,890.1 1033.4,889.9 1033.9,886.4 1034.4,885.6 1034.9,895.9 1035.4,888.2 1035.9,891.8 1036.5,893.6 1037.0,895.4 1037.5,893.4 1038.0,890.1 1038.5,898.4 1039.0,896.1 1039.6,903.4 1040.1,879.4 1040.6,880.6 1041.1,894.6 1041.6,888.2 1042.1,886.3 1042.6,886.2 1043.2,886.5 1043.7,893.8 1044.2,899.5 1044.7,901.1 1045.2,888.7 1045.7,896.3 1046.2,894.0 1046.8,887.4 1047.3,892.9 1047.8,903.1 1048.3,893.6 1048.8,893.7 1049.3,907.9 1049.8,904.5 1050.4,904.3 1050.9,896.7 1051.4,901.1 1051.9,900.4 1052.4,900.9 1052.9,902.4 1053.4,897.5 1054.0,887.5 1054.5,905.0 1055.0,907.6 1055.5,899.4 1056.0,912.3 1056.5,902.5 1057.1,894.9 1057.6,891.8 1058.1,902.5 1058.6,897.5 1059.1,903.4 1059.6,903.7 1060.1,901.4 1060.7,903.2 1061.2,906.8 1061.7,895.9 1062.2,896.7 1062.7,894.7 1063.2,904.4 1063.7,887.1 1064.3,899.4 1064.8,903.8 1065.3,895.1 1065.8,900.6 1066.3,887.9 1066.8,895.2 1067.3,901.6 1067.9,909.7 1068.4,894.2 1068.9,898.6 1069.4,896.8 1069.9,896.4 1070.4,899.3 1071.0,900.8 1071.5,900.2 1072.0,897.1 1072.5,901.5 1073.0,895.8 1073.5,906.7 1074.0,904.9 1074.6,904.3 1075.1,902.1 1075.6,904.0 1076.1,914.0 1076.6,890.8 1077.1,898.0 1077.6,904.1 1078.2,905.0 1078.7,905.2 1079.2,905.6 1079.7,905.5 1080.2,896.3 1080.7,891.1 1081.2,906.0 1081.8,911.1 1082.3,899.7 1082.8,901.9 1083.3,900.9 1083.8,896.8 1084.3,894.3 1084.9,901.6 1085.4,906.6 1085.9,901.0 1086.4,909.4 1086.9,900.8 1087.4,909.3 1087.9,902.4 1088.5,906.5 1089.0,898.5 1089.5,890.0 1090.0,909.9 1090.5,901.6 1091.0,913.4 1091.5,910.3 1092.1,894.8 1092.6,914.1 1093.1,897.4 1093.6,911.0 1094.1,908.9 1094.6,903.6 1095.1,907.5 1095.7,899.0 1096.2,906.3 1096.7,894.7 1097.2,908.6 1097.7,904.7 1098.2,906.7 1098.8,892.7 1099.3,896.1 1099.8,900.5 1100.3,899.2 1100.8,892.1 1101.3,902.6 1101.8,896.8 1102.4,904.5 1102.9,902.7 1103.4,915.6 1103.9,903.6 1104.4,894.6 1104.9,909.3 1105.4,907.8 1106.0,893.7 1106.5,908.3 1107.0,904.3 1107.5,899.0 1108.0,906.0 1108.5,901.8 1109.0,901.0 1109.6,912.1 1110.1,907.7 1110.6,896.4 1111.1,906.4 1111.6,904.4 1112.1,914.8 1112.7,895.6 1113.2,903.8 1113.7,900.9 1114.2,903.1 1114.7,906.7 1115.2,901.2 1115.7,905.8 1116.3,898.2 1116.8,898.2 1117.3,912.3 1117.8,900.8 1118.3,905.5 1118.8,910.4 1119.3,908.8 1119.9,904.0 1120.4,909.7 1120.9,916.1 1121.4,897.6 1121.9,901.7 1122.4,905.3 1122.9,899.0 1123.5,904.7 1124.0,905.6 1124.5,913.6 1125.0,901.5 1125.5,906.6 1126.0,910.5 1126.6,900.4 1127.1,904.6 1127.6,914.6 1128.1,892.4 1128.6,906.8 1129.1,901.4 1129.6,907.7 1130.2,898.4 1130.7,905.0 1131.2,904.6 1131.7,905.9 1132.2,907.7 1132.7,909.6 1133.2,907.8 1133.8,907.2 1134.3,912.4 1134.8,901.7 1135.3,910.8 1135.8,906.2 1136.3,908.2 1136.8,901.7 1137.4,898.1 1137.9,902.0 1138.4,908.3 1138.9,902.7 1139.4,897.8 1139.9,918.7 1140.5,906.0 1141.0,894.8 1141.5,909.9 1142.0,912.9 1142.5,902.9 1143.0,898.6 1143.5,910.9 1144.1,909.4 1144.6,909.2 1145.1,893.9 1145.6,911.2 1146.1,915.9 1146.6,897.9 1147.1,905.7 1147.7,908.2 1148.2,907.0 1148.7,902.3 1149.2,906.9 1149.7,913.1 1150.2,906.0 1150.7,900.1 1151.3,905.0 1151.8,906.0 1152.3,907.5 1152.8,906.6 1153.3,917.1 1153.8,913.9 1154.4,897.3 1154.9,906.1 1155.4,903.4 1155.9,906.0 1156.4,909.8 1156.9,905.2 1157.4,908.2 1158.0,904.3 1158.5,917.2 1159.0,903.4 1159.5,908.7 1160.0,912.5 1160.5,910.2 1161.0,898.7 1161.6,905.3 1162.1,910.2 1162.6,899.4 1163.1,902.3 1163.6,907.9 1164.1,909.0 1164.6,897.4 1165.2,899.6 1165.7,905.9 1166.2,899.5 1166.7,915.4 1167.2,910.0 1167.7,910.1 1168.3,903.6 1168.8,900.8 1169.3,891.1 1169.8,905.3 1170.3,901.9 1170.8,897.6 1171.3,904.9 1171.9,900.3 1172.4,899.7 1172.9,901.6 1173.4,905.2 1173.9,900.8 1174.4,894.6 1174.9,894.2 1175.5,908.5 1176.0,903.3 1176.5,911.3 1177.0,899.6 1177.5,902.1 1178.0,900.4 1178.5,896.1 1179.1,892.4 1179.6,910.3 1180.1,896.3 1180.6,893.4 1181.1,903.2 1181.6,902.2 1182.1,908.7 1182.7,902.8 1183.2,895.2 1183.7,890.9 1184.2,897.7 1184.7,909.0 1185.2,885.7 1185.8,894.2 1186.3,894.8 1186.8,897.1 1187.3,895.3 1187.8,916.0 1188.3,895.5 1188.8,890.1 1189.4,895.9 1189.9,891.1 1190.4,887.6 1190.9,880.8 1191.4,889.5 1191.9,886.0 1192.4,888.9 1193.0,902.0 1193.5,879.9 1194.0,875.7 1194.5,878.1 1195.0,879.5 1195.5,881.7 1196.0,887.9 1196.6,882.9 1197.1,869.6 1197.6,884.3 1198.1,882.4 1198.6,880.9 1199.1,886.3 1199.7,875.7 1200.2,876.3 1200.7,872.2 1201.2,886.8 1201.7,875.3 1202.2,878.2 1202.7,877.1 1203.3,888.9 1203.8,877.3 1204.3,877.7 1204.8,874.6 1205.3,875.0 1205.8,874.6 1206.3,875.7 1206.9,881.6 1207.4,866.2 1207.9,860.2 1208.4,869.7 1208.9,874.5 1209.4,880.7 1209.9,849.3 1210.5,851.7 1211.0,855.4 1211.5,851.8 1212.0,858.0 1212.5,857.2 1213.0,851.1 1213.6,850.5 1214.1,838.8 1214.6,829.3 1215.1,842.3 1215.6,832.0 1216.1,849.0 1216.6,838.4 1217.2,833.6 1217.7,822.9 1218.2,832.0 1218.7,821.0 1219.2,822.0 1219.7,796.9 1220.2,816.6 1220.8,824.7 1221.3,808.5 1221.8,804.3 1222.3,810.1 1222.8,802.2 1223.3,791.0 1223.8,795.2 1224.4,779.3 1224.9,786.3 1225.4,784.3 1225.9,763.2 1226.4,759.0 1226.9,762.5 1227.5,756.3 1228.0,761.4 1228.5,729.6 1229.0,710.5 1229.5,739.5 1230.0,693.2 1230.5,721.9 1231.1,704.2 1231.6,695.8 1232.1,709.3 1232.6,691.7 1233.1,677.3 1233.6,674.0 1234.1,675.1 1234.7,640.8 1235.2,670.7 1235.7,668.5 1236.2,649.3 1236.7,639.0 1237.2,641.5 1237.7,614.6 1238.3,605.5 1238.8,626.7 1239.3,593.1 1239.8,586.4 1240.3,562.3 1240.8,572.3 1241.4,553.9 1241.9,554.1 1242.4,527.4 1242.9,523.1 1243.4,525.0 1243.9,503.9 1244.4,536.9 1245.0,493.9 1245.5,496.1 1246.0,499.4 1246.5,479.5 1247.0,482.6 1247.5,506.0 1248.0,487.7 1248.6,483.9 1249.1,515.7 1249.6,534.5 1250.1,533.6 1250.6,516.1 1251.1,536.8 1251.6,544.8 1252.2,555.1 1252.7,531.6 1253.2,562.5 1253.7,571.4 1254.2,555.5 1254.7,577.4 1255.3,571.2 1255.8,617.5 1256.3,591.8 1256.8,624.7 1257.3,645.1 1257.8,651.9 1258.3,635.9 1258.9,647.8 1259.4,649.0 1259.9,650.6 1260.4,677.1 1260.9,676.3 1261.4,677.4 1261.9,690.3 1262.5,697.1 1263.0,689.6 1263.5,716.7 1264.0,717.4 1264.5,718.8 1265.0,723.4 1265.5,728.2 1266.1,733.6 1266.6,734.5 1267.1,741.7 1267.6,724.6 1268.1,739.8 1268.6,750.1 1269.2,762.4 1269.7,758.5 1270.2,766.1 1270.7,762.2 1271.2,764.0 1271.7,793.4 1272.2,791.9 1272.8,808.5 1273.3,800.4 1273.8,803.0 1274.3,801.6 1274.8,791.5 1275.3,820.8 1275.8,816.0 1276.4,821.4 1276.9,826.7 1277.4,809.7 1277.9,836.1 1278.4,836.4 1278.9,831.9 1279.4,822.4 1280.0,850.1 1280.5,829.8 1281.0,853.8 1281.5,826.2 1282.0,857.0 1282.5,851.0 1283.1,851.9 1283.6,861.4 1284.1,845.2 1284.6,849.2 1285.1,857.5 1285.6,855.3 1286.1,860.0 1286.7,859.1 1287.2,867.8 1287.7,851.1 1288.2,853.5 1288.7,867.4 1289.2,878.1 1289.7,866.3 1290.3,874.1 1290.8,874.3 1291.3,887.3 1291.8,874.8 1292.3,887.3 1292.8,874.0 1293.3,876.3 1293.9,888.4 1294.4,880.5 1294.9,892.0 1295.4,880.9 1295.9,890.8 1296.4,894.5 1297.0,885.2 1297.5,872.5 1298.0,877.3 1298.5,898.5 1299.0,890.3 1299.5,896.6 1300.0,884.4 1300.6,896.0 1301.1,899.5 1301.6,889.5 1302.1,892.1 1302.6,892.9 1303.1,892.2 1303.6,898.1 1304.2,891.9 1304.7,907.5 1305.2,896.4 1305.7,906.1 1306.2,893.5 1306.7,898.1 1307.2,893.5 1307.8,902.0 1308.3,898.7 1308.8,897.3 1309.3,899.4 1309.8,904.1 1310.3,904.0 1310.8,906.1 1311.4,895.1 1311.9,914.4 1312.4,911.2 1312.9,903.8 1313.4,914.4 1313.9,924.0 1314.5,912.5 1315.0,913.8 1315.5,908.7 1316.0,915.7 1316.5,909.9 1317.0,909.2 1317.5,917.4 1318.1,914.3 1318.6,902.9 1319.1,915.3 1319.6,907.4 1320.1,914.1 1320.6,915.3 1321.1,920.3 1321.7,909.5 1322.2,915.3 1322.7,922.3 1323.2,911.0 1323.7,916.1 1324.2,925.6 1324.7,912.2 1325.3,925.5 1325.8,910.4 1326.3,920.1 1326.8,921.1 1327.3,908.3 1327.8,913.4 1328.4,916.6 1328.9,919.4 1329.4,923.1 1329.9,915.5 1330.4,915.9 1330.9,928.0 1331.4,915.5 1332.0,922.6 1332.5,920.9 1333.0,917.2 1333.5,920.9 1334.0,923.8 1334.5,925.7 1335.0,924.5 1335.6,918.7 1336.1,911.4 1336.6,914.4 1337.1,925.4 1337.6,916.1 1338.1,926.8 1338.6,921.2 1339.2,928.8 1339.7,924.1 1340.2,930.0 1340.7,925.8 1341.2,923.3 1341.7,919.2 1342.3,931.0 1342.8,924.1 1343.3,923.1 1343.8,926.7 1344.3,914.2 1344.8,930.1 1345.3,927.7 1345.9,921.8 1346.4,921.0 1346.9,925.8 1347.4,926.6 1347.9,923.4 1348.4,924.5 1348.9,926.7 1349.5,924.9 1350.0,925.2 1350.5,926.0 1351.0,931.5 1351.5,930.5 1352.0,918.4 1352.5,916.1 1353.1,929.8 1353.6,935.6 1354.1,920.7 1354.6,924.1 1355.1,923.9 1355.6,926.9 1356.2,930.6 1356.7,923.2 1357.2,928.3 1357.7,923.4 1358.2,931.5 1358.7,925.8 1359.2,926.5 1359.8,929.7 1360.3,926.0 1360.8,931.0 1361.3,926.3 1361.8,929.2 1362.3,934.2 1362.8,927.4 1363.4,930.1 1363.9,929.2 1364.4,911.2 1364.9,930.1 1365.4,925.7 1365.9,928.4 1366.4,914.4 1367.0,924.8 1367.5,940.3 1368.0,930.5 1368.5,928.7 1369.0,922.1 1369.5,924.9 1370.1,922.1 1370.6,931.9 1371.1,926.7 1371.6,920.7 1372.1,938.2 1372.6,927.0 1373.1,923.9 1373.7,928.8 1374.2,924.9 1374.7,922.4 1375.2,927.2"/>
</g>
<g fill="#000">
<rect x="171" y="21" width="1293" height="6.8"/>
<rect x="171" y="1377" width="1293" height="7"/>
<rect x="171" y="21" width="6" height="1390"/>
<rect x="1458" y="21" width="6" height="1375"/>
<rect x="342.20" y="1380" width="6.8" height="31"/>
<rect x="513.80" y="1380" width="6.8" height="31"/>
<rect x="685.40" y="1380" width="6.8" height="31"/>
<rect x="857.00" y="1380" width="6.8" height="31"/>
<rect x="1028.60" y="1380" width="6.8" height="31"/>
<rect x="1200.20" y="1380" width="6.8" height="31"/>
<rect x="1371.80" y="1380" width="6.8" height="31"/>
<rect x="256.50" y="1380" width="6.6" height="16"/>
<rect x="428.10" y="1380" width="6.6" height="16"/>
<rect x="599.70" y="1380" width="6.6" height="16"/>
<rect x="771.30" y="1380" width="6.6" height="16"/>
<rect x="942.90" y="1380" width="6.6" height="16"/>
<rect x="1114.50" y="1380" width="6.6" height="16"/>
<rect x="1286.10" y="1380" width="6.6" height="16"/>
</g>
<g filter="url(#bin)">
<g font-size="66" text-anchor="middle" stroke="#000" stroke-width="0.8">
<text transform="translate(174.0,1484) scale(1,1.045)">0</text>
<text transform="translate(345.6,1484) scale(1,1.045)">10</text>
<text transform="translate(517.2,1484) scale(1,1.045)">20</text>
<text transform="translate(688.8,1484) scale(1,1.045)">30</text>
<text transform="translate(860.4,1484) scale(1,1.045)">40</text>
<text transform="translate(1032.0,1484) scale(1,1.045)">50</text>
<text transform="translate(1203.6,1484) scale(1,1.045)">60</text>
<text transform="translate(1375.2,1484) scale(1,1.045)">70</text>
</g>
<g font-size="82" stroke="#000" stroke-width="0.8">
<text transform="translate(732.7,1618.5) scale(1,1.045)">2</text>
<text class="th" font-size="78.4" stroke-width="0.3" transform="translate(779,1618.5) scale(1.146,1)">θ</text>
<text transform="translate(821.8,1618.5) scale(0.87,1.0)">(</text>
<text font-size="48" transform="translate(848,1589.5) scale(1,1.045)">o</text>
<text transform="translate(877.0,1618.5) scale(0.87,1.0)">)</text>
<text transform="translate(79.3,960.5) rotate(-90) scale(1,1.02)">Intensity (a.u.)</text>
</g>
</g>
<rect x="1029.5" y="81.5" width="390" height="323" fill="#fff" stroke="#000" stroke-width="3"/>
<g filter="url(#bin)" font-size="66" stroke="#000" stroke-width="0.8">
<line x1="1038.4" y1="120" x2="1187.6" y2="120" stroke="#00ffff" stroke-width="3" stroke-linecap="round" shape-rendering="crispEdges"/>
<text transform="translate(1205.2,143) scale(1,1.03)">MgAl-1</text>
<line x1="1038.4" y1="202" x2="1187.6" y2="202" stroke="#ff0000" stroke-width="3" stroke-linecap="round" shape-rendering="crispEdges"/>
<text transform="translate(1205.2,225.1) scale(1,1.03)">MgAl-2</text>
<line x1="1038.4" y1="284" x2="1187.6" y2="284" stroke="#00ff00" stroke-width="3" stroke-linecap="round" shape-rendering="crispEdges"/>
<text transform="translate(1205.2,307.2) scale(1,1.03)">MgAl-3</text>
<line x1="1038.4" y1="366" x2="1187.6" y2="366" stroke="#0000ff" stroke-width="3" stroke-linecap="round" shape-rendering="crispEdges"/>
<text transform="translate(1205.2,389.3) scale(1,1.03)">MgAl-4</text>
</g>
</svg></body></html>
